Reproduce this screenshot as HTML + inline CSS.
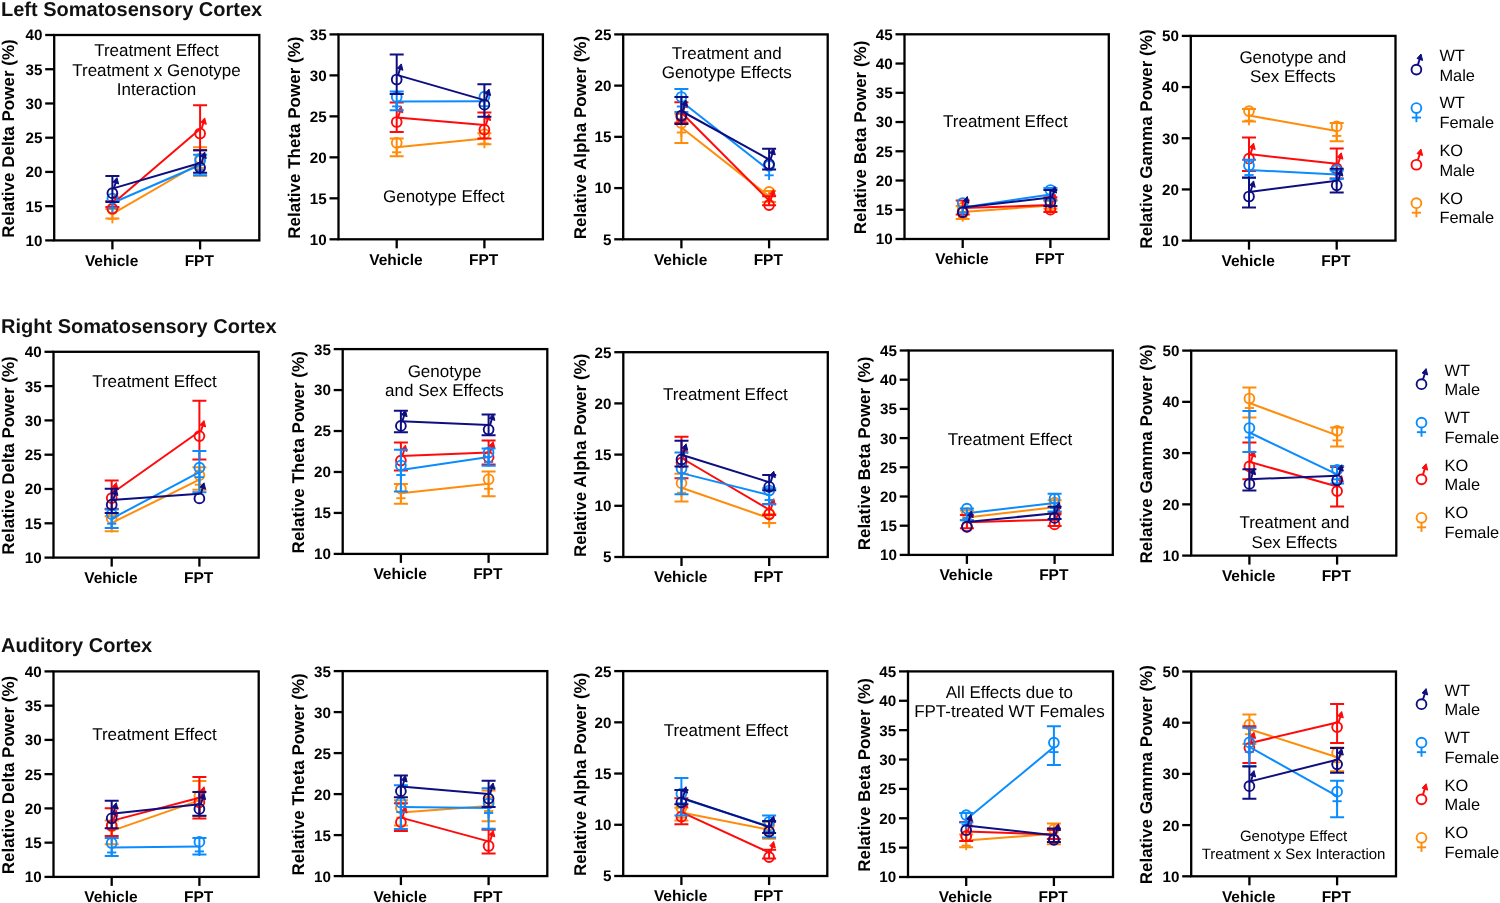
<!DOCTYPE html><html><head><meta charset="utf-8"><style>html,body{margin:0;padding:0;background:#fff;width:1500px;height:903px;overflow:hidden;position:relative}</style></head><body><svg width="1500" height="903" viewBox="0 0 1500 903" style="position:absolute;left:0;top:0;will-change:transform" text-rendering="geometricPrecision"><rect width="1500" height="903" fill="#fff"/><text x="1" y="15.6" font-family='"Liberation Sans", sans-serif' font-weight="700" font-size="20" fill="#111">Left Somatosensory Cortex</text><text x="1" y="333.3" font-family='"Liberation Sans", sans-serif' font-weight="700" font-size="20" fill="#111">Right Somatosensory Cortex</text><text x="1" y="651.5" font-family='"Liberation Sans", sans-serif' font-weight="700" font-size="20" fill="#111">Auditory Cortex</text><line x1="112.4" y1="213.80" x2="200.1" y2="163.00" stroke="#ff8c0a" stroke-width="2"/><path d="M105.4,209.00H119.4M112.4,209.00V218.50M105.4,218.50H119.4" fill="none" stroke="#ff8c0a" stroke-width="2"/><circle cx="112.40" cy="209.30" r="4.9" fill="none" stroke="#ff8c0a" stroke-width="1.9"/><line x1="112.40" y1="214.20" x2="112.40" y2="223.40" stroke="#ff8c0a" stroke-width="1.9"/><line x1="107.80" y1="218.80" x2="117.00" y2="218.80" stroke="#ff8c0a" stroke-width="1.9"/><path d="M193.1,147.30H207.1M200.1,147.30V175.80M193.1,175.80H207.1" fill="none" stroke="#ff8c0a" stroke-width="2"/><circle cx="200.10" cy="158.50" r="4.9" fill="none" stroke="#ff8c0a" stroke-width="1.9"/><line x1="200.10" y1="163.40" x2="200.10" y2="172.60" stroke="#ff8c0a" stroke-width="1.9"/><line x1="195.50" y1="168.00" x2="204.70" y2="168.00" stroke="#ff8c0a" stroke-width="1.9"/><line x1="112.4" y1="204.00" x2="200.1" y2="128.90" stroke="#ff0a0a" stroke-width="2"/><path d="M105.4,201.00H119.4M112.4,201.00V207.00M105.4,207.00H119.4" fill="none" stroke="#ff0a0a" stroke-width="2"/><circle cx="112.40" cy="208.60" r="4.9" fill="none" stroke="#ff0a0a" stroke-width="1.9"/><line x1="113.90" y1="203.90" x2="116.30" y2="196.00" stroke="#ff0a0a" stroke-width="1.9"/><polygon points="117.00,193.00 113.00,197.40 118.60,199.40" fill="#ff0a0a" stroke="#ff0a0a" stroke-width="1" stroke-linejoin="round"/><path d="M193.1,105.30H207.1M200.1,105.30V150.30M193.1,150.30H207.1" fill="none" stroke="#ff0a0a" stroke-width="2"/><circle cx="200.10" cy="133.50" r="4.9" fill="none" stroke="#ff0a0a" stroke-width="1.9"/><line x1="201.60" y1="128.80" x2="204.00" y2="120.90" stroke="#ff0a0a" stroke-width="1.9"/><polygon points="204.70,117.90 200.70,122.30 206.30,124.30" fill="#ff0a0a" stroke="#ff0a0a" stroke-width="1" stroke-linejoin="round"/><line x1="112.4" y1="203.00" x2="200.1" y2="165.00" stroke="#0a8cff" stroke-width="2"/><circle cx="112.40" cy="198.50" r="4.9" fill="none" stroke="#0a8cff" stroke-width="1.9"/><line x1="112.40" y1="203.40" x2="112.40" y2="212.60" stroke="#0a8cff" stroke-width="1.9"/><line x1="107.80" y1="208.00" x2="117.00" y2="208.00" stroke="#0a8cff" stroke-width="1.9"/><path d="M193.1,154.80H207.1M200.1,154.80V175.30M193.1,175.30H207.1" fill="none" stroke="#0a8cff" stroke-width="2"/><circle cx="200.10" cy="160.50" r="4.9" fill="none" stroke="#0a8cff" stroke-width="1.9"/><line x1="200.10" y1="165.40" x2="200.10" y2="174.60" stroke="#0a8cff" stroke-width="1.9"/><line x1="195.50" y1="170.00" x2="204.70" y2="170.00" stroke="#0a8cff" stroke-width="1.9"/><line x1="112.4" y1="188.60" x2="200.1" y2="163.00" stroke="#0e0e80" stroke-width="2"/><path d="M105.4,175.90H119.4M112.4,175.90V201.90M105.4,201.90H119.4" fill="none" stroke="#0e0e80" stroke-width="2"/><circle cx="112.40" cy="193.20" r="4.9" fill="none" stroke="#0e0e80" stroke-width="1.9"/><line x1="113.90" y1="188.50" x2="116.30" y2="180.60" stroke="#0e0e80" stroke-width="1.9"/><polygon points="117.00,177.60 113.00,182.00 118.60,184.00" fill="#0e0e80" stroke="#0e0e80" stroke-width="1" stroke-linejoin="round"/><path d="M193.1,150.30H207.1M200.1,150.30V172.80M193.1,172.80H207.1" fill="none" stroke="#0e0e80" stroke-width="2"/><circle cx="200.10" cy="167.60" r="4.9" fill="none" stroke="#0e0e80" stroke-width="1.9"/><line x1="201.60" y1="162.90" x2="204.00" y2="155.00" stroke="#0e0e80" stroke-width="1.9"/><polygon points="204.70,152.00 200.70,156.40 206.30,158.40" fill="#0e0e80" stroke="#0e0e80" stroke-width="1" stroke-linejoin="round"/><rect x="54.2" y="35" width="205.10000000000002" height="205.4" fill="none" stroke="#000" stroke-width="2.3"/><line x1="45.2" y1="240.40" x2="54.2" y2="240.40" stroke="#000" stroke-width="2.3"/><text x="42.40" y="245.80" text-anchor="end" font-family='"Liberation Sans", sans-serif' font-weight="700" font-size="15.2" fill="#000">10</text><line x1="45.2" y1="206.17" x2="54.2" y2="206.17" stroke="#000" stroke-width="2.3"/><text x="42.40" y="211.57" text-anchor="end" font-family='"Liberation Sans", sans-serif' font-weight="700" font-size="15.2" fill="#000">15</text><line x1="45.2" y1="171.93" x2="54.2" y2="171.93" stroke="#000" stroke-width="2.3"/><text x="42.40" y="177.33" text-anchor="end" font-family='"Liberation Sans", sans-serif' font-weight="700" font-size="15.2" fill="#000">20</text><line x1="45.2" y1="137.70" x2="54.2" y2="137.70" stroke="#000" stroke-width="2.3"/><text x="42.40" y="143.10" text-anchor="end" font-family='"Liberation Sans", sans-serif' font-weight="700" font-size="15.2" fill="#000">25</text><line x1="45.2" y1="103.47" x2="54.2" y2="103.47" stroke="#000" stroke-width="2.3"/><text x="42.40" y="108.87" text-anchor="end" font-family='"Liberation Sans", sans-serif' font-weight="700" font-size="15.2" fill="#000">30</text><line x1="45.2" y1="69.23" x2="54.2" y2="69.23" stroke="#000" stroke-width="2.3"/><text x="42.40" y="74.63" text-anchor="end" font-family='"Liberation Sans", sans-serif' font-weight="700" font-size="15.2" fill="#000">35</text><line x1="45.2" y1="35.00" x2="54.2" y2="35.00" stroke="#000" stroke-width="2.3"/><text x="42.40" y="40.40" text-anchor="end" font-family='"Liberation Sans", sans-serif' font-weight="700" font-size="15.2" fill="#000">40</text><line x1="112.4" y1="240.4" x2="112.4" y2="249.4" stroke="#000" stroke-width="2.3"/><text x="111.60000000000001" y="265.80" text-anchor="middle" font-family='"Liberation Sans", sans-serif' font-weight="700" font-size="15.5" fill="#000">Vehicle</text><line x1="200.1" y1="240.4" x2="200.1" y2="249.4" stroke="#000" stroke-width="2.3"/><text x="199.29999999999998" y="265.80" text-anchor="middle" font-family='"Liberation Sans", sans-serif' font-weight="700" font-size="15.5" fill="#000">FPT</text><text transform="translate(13.8,138.50) rotate(-90)" x="0" y="0" text-anchor="middle" font-family='"Liberation Sans", sans-serif' font-weight="700" font-size="17" fill="#000">Relative Delta Power (%)</text><text x="156.5" y="55.8" text-anchor="middle" font-family='"Liberation Sans", sans-serif' font-size="17" fill="#000">Treatment Effect</text><text x="156.5" y="75.7" text-anchor="middle" font-family='"Liberation Sans", sans-serif' font-size="17" fill="#000">Treatment x Genotype</text><text x="156.5" y="94.7" text-anchor="middle" font-family='"Liberation Sans", sans-serif' font-size="17" fill="#000">Interaction</text><line x1="396.7" y1="147.30" x2="484.4" y2="138.60" stroke="#ff8c0a" stroke-width="2"/><path d="M389.7,138.60H403.7M396.7,138.60V156.30M389.7,156.30H403.7" fill="none" stroke="#ff8c0a" stroke-width="2"/><circle cx="396.70" cy="142.80" r="4.9" fill="none" stroke="#ff8c0a" stroke-width="1.9"/><line x1="396.70" y1="147.70" x2="396.70" y2="156.90" stroke="#ff8c0a" stroke-width="1.9"/><line x1="392.10" y1="152.30" x2="401.30" y2="152.30" stroke="#ff8c0a" stroke-width="1.9"/><path d="M477.4,133.30H491.4M484.4,133.30V144.30M477.4,144.30H491.4" fill="none" stroke="#ff8c0a" stroke-width="2"/><circle cx="484.40" cy="134.10" r="4.9" fill="none" stroke="#ff8c0a" stroke-width="1.9"/><line x1="484.40" y1="139.00" x2="484.40" y2="148.20" stroke="#ff8c0a" stroke-width="1.9"/><line x1="479.80" y1="143.60" x2="489.00" y2="143.60" stroke="#ff8c0a" stroke-width="1.9"/><line x1="396.7" y1="117.40" x2="484.4" y2="125.10" stroke="#ff0a0a" stroke-width="2"/><path d="M389.7,102.40H403.7M396.7,102.40V132.00M389.7,132.00H403.7" fill="none" stroke="#ff0a0a" stroke-width="2"/><circle cx="396.70" cy="122.00" r="4.9" fill="none" stroke="#ff0a0a" stroke-width="1.9"/><line x1="398.20" y1="117.30" x2="400.60" y2="109.40" stroke="#ff0a0a" stroke-width="1.9"/><polygon points="401.30,106.40 397.30,110.80 402.90,112.80" fill="#ff0a0a" stroke="#ff0a0a" stroke-width="1" stroke-linejoin="round"/><path d="M477.4,112.50H491.4M484.4,112.50V138.60M477.4,138.60H491.4" fill="none" stroke="#ff0a0a" stroke-width="2"/><circle cx="484.40" cy="129.70" r="4.9" fill="none" stroke="#ff0a0a" stroke-width="1.9"/><line x1="485.90" y1="125.00" x2="488.30" y2="117.10" stroke="#ff0a0a" stroke-width="1.9"/><polygon points="489.00,114.10 485.00,118.50 490.60,120.50" fill="#ff0a0a" stroke="#ff0a0a" stroke-width="1" stroke-linejoin="round"/><line x1="396.7" y1="101.40" x2="484.4" y2="101.20" stroke="#0a8cff" stroke-width="2"/><path d="M389.7,91.50H403.7M396.7,91.50V110.30M389.7,110.30H403.7" fill="none" stroke="#0a8cff" stroke-width="2"/><circle cx="396.70" cy="96.90" r="4.9" fill="none" stroke="#0a8cff" stroke-width="1.9"/><line x1="396.70" y1="101.80" x2="396.70" y2="111.00" stroke="#0a8cff" stroke-width="1.9"/><line x1="392.10" y1="106.40" x2="401.30" y2="106.40" stroke="#0a8cff" stroke-width="1.9"/><circle cx="484.40" cy="96.70" r="4.9" fill="none" stroke="#0a8cff" stroke-width="1.9"/><line x1="484.40" y1="101.60" x2="484.40" y2="110.80" stroke="#0a8cff" stroke-width="1.9"/><line x1="479.80" y1="106.20" x2="489.00" y2="106.20" stroke="#0a8cff" stroke-width="1.9"/><line x1="396.7" y1="74.90" x2="484.4" y2="100.10" stroke="#0e0e80" stroke-width="2"/><path d="M389.7,54.60H403.7M396.7,54.60V94.10M389.7,94.10H403.7" fill="none" stroke="#0e0e80" stroke-width="2"/><circle cx="396.70" cy="79.50" r="4.9" fill="none" stroke="#0e0e80" stroke-width="1.9"/><line x1="398.20" y1="74.80" x2="400.60" y2="66.90" stroke="#0e0e80" stroke-width="1.9"/><polygon points="401.30,63.90 397.30,68.30 402.90,70.30" fill="#0e0e80" stroke="#0e0e80" stroke-width="1" stroke-linejoin="round"/><path d="M477.4,84.20H491.4M484.4,84.20V116.70M477.4,116.70H491.4" fill="none" stroke="#0e0e80" stroke-width="2"/><circle cx="484.40" cy="104.70" r="4.9" fill="none" stroke="#0e0e80" stroke-width="1.9"/><line x1="485.90" y1="100.00" x2="488.30" y2="92.10" stroke="#0e0e80" stroke-width="1.9"/><polygon points="489.00,89.10 485.00,93.50 490.60,95.50" fill="#0e0e80" stroke="#0e0e80" stroke-width="1" stroke-linejoin="round"/><rect x="338.5" y="34.4" width="204.39999999999998" height="204.9" fill="none" stroke="#000" stroke-width="2.3"/><line x1="329.5" y1="239.30" x2="338.5" y2="239.30" stroke="#000" stroke-width="2.3"/><text x="326.70" y="244.70" text-anchor="end" font-family='"Liberation Sans", sans-serif' font-weight="700" font-size="15.2" fill="#000">10</text><line x1="329.5" y1="198.32" x2="338.5" y2="198.32" stroke="#000" stroke-width="2.3"/><text x="326.70" y="203.72" text-anchor="end" font-family='"Liberation Sans", sans-serif' font-weight="700" font-size="15.2" fill="#000">15</text><line x1="329.5" y1="157.34" x2="338.5" y2="157.34" stroke="#000" stroke-width="2.3"/><text x="326.70" y="162.74" text-anchor="end" font-family='"Liberation Sans", sans-serif' font-weight="700" font-size="15.2" fill="#000">20</text><line x1="329.5" y1="116.36" x2="338.5" y2="116.36" stroke="#000" stroke-width="2.3"/><text x="326.70" y="121.76" text-anchor="end" font-family='"Liberation Sans", sans-serif' font-weight="700" font-size="15.2" fill="#000">25</text><line x1="329.5" y1="75.38" x2="338.5" y2="75.38" stroke="#000" stroke-width="2.3"/><text x="326.70" y="80.78" text-anchor="end" font-family='"Liberation Sans", sans-serif' font-weight="700" font-size="15.2" fill="#000">30</text><line x1="329.5" y1="34.40" x2="338.5" y2="34.40" stroke="#000" stroke-width="2.3"/><text x="326.70" y="39.80" text-anchor="end" font-family='"Liberation Sans", sans-serif' font-weight="700" font-size="15.2" fill="#000">35</text><line x1="396.7" y1="239.3" x2="396.7" y2="248.3" stroke="#000" stroke-width="2.3"/><text x="395.9" y="264.70" text-anchor="middle" font-family='"Liberation Sans", sans-serif' font-weight="700" font-size="15.5" fill="#000">Vehicle</text><line x1="484.4" y1="239.3" x2="484.4" y2="248.3" stroke="#000" stroke-width="2.3"/><text x="483.59999999999997" y="264.70" text-anchor="middle" font-family='"Liberation Sans", sans-serif' font-weight="700" font-size="15.5" fill="#000">FPT</text><text transform="translate(300.2,137.65) rotate(-90)" x="0" y="0" text-anchor="middle" font-family='"Liberation Sans", sans-serif' font-weight="700" font-size="17" fill="#000">Relative Theta Power (%)</text><text x="443.8" y="201.5" text-anchor="middle" font-family='"Liberation Sans", sans-serif' font-size="17" fill="#000">Genotype Effect</text><line x1="681.4" y1="127.50" x2="769.1" y2="196.40" stroke="#ff8c0a" stroke-width="2"/><path d="M674.4,113.90H688.4M681.4,113.90V143.10M674.4,143.10H688.4" fill="none" stroke="#ff8c0a" stroke-width="2"/><circle cx="681.40" cy="123.00" r="4.9" fill="none" stroke="#ff8c0a" stroke-width="1.9"/><line x1="681.40" y1="127.90" x2="681.40" y2="137.10" stroke="#ff8c0a" stroke-width="1.9"/><line x1="676.80" y1="132.50" x2="686.00" y2="132.50" stroke="#ff8c0a" stroke-width="1.9"/><path d="M762.1,191.00H776.1M769.1,191.00V202.00M762.1,202.00H776.1" fill="none" stroke="#ff8c0a" stroke-width="2"/><circle cx="769.10" cy="191.90" r="4.9" fill="none" stroke="#ff8c0a" stroke-width="1.9"/><line x1="769.10" y1="196.80" x2="769.10" y2="206.00" stroke="#ff8c0a" stroke-width="1.9"/><line x1="764.50" y1="201.40" x2="773.70" y2="201.40" stroke="#ff8c0a" stroke-width="1.9"/><line x1="681.4" y1="112.50" x2="769.1" y2="200.50" stroke="#ff0a0a" stroke-width="2"/><path d="M674.4,102.30H688.4M681.4,102.30V122.80M674.4,122.80H688.4" fill="none" stroke="#ff0a0a" stroke-width="2"/><circle cx="681.40" cy="117.10" r="4.9" fill="none" stroke="#ff0a0a" stroke-width="1.9"/><line x1="682.90" y1="112.40" x2="685.30" y2="104.50" stroke="#ff0a0a" stroke-width="1.9"/><polygon points="686.00,101.50 682.00,105.90 687.60,107.90" fill="#ff0a0a" stroke="#ff0a0a" stroke-width="1" stroke-linejoin="round"/><path d="M762.1,196.20H776.1M769.1,196.20V205.20M762.1,205.20H776.1" fill="none" stroke="#ff0a0a" stroke-width="2"/><circle cx="769.10" cy="205.10" r="4.9" fill="none" stroke="#ff0a0a" stroke-width="1.9"/><line x1="770.60" y1="200.40" x2="773.00" y2="192.50" stroke="#ff0a0a" stroke-width="1.9"/><polygon points="773.70,189.50 769.70,193.90 775.30,195.90" fill="#ff0a0a" stroke="#ff0a0a" stroke-width="1" stroke-linejoin="round"/><line x1="681.4" y1="101.50" x2="769.1" y2="170.30" stroke="#0a8cff" stroke-width="2"/><path d="M674.4,89.00H688.4M681.4,89.00V112.00M674.4,112.00H688.4" fill="none" stroke="#0a8cff" stroke-width="2"/><circle cx="681.40" cy="97.00" r="4.9" fill="none" stroke="#0a8cff" stroke-width="1.9"/><line x1="681.40" y1="101.90" x2="681.40" y2="111.10" stroke="#0a8cff" stroke-width="1.9"/><line x1="676.80" y1="106.50" x2="686.00" y2="106.50" stroke="#0a8cff" stroke-width="1.9"/><circle cx="769.10" cy="165.80" r="4.9" fill="none" stroke="#0a8cff" stroke-width="1.9"/><line x1="769.10" y1="170.70" x2="769.10" y2="179.90" stroke="#0a8cff" stroke-width="1.9"/><line x1="764.50" y1="175.30" x2="773.70" y2="175.30" stroke="#0a8cff" stroke-width="1.9"/><line x1="681.4" y1="111.00" x2="769.1" y2="159.50" stroke="#0e0e80" stroke-width="2"/><path d="M674.4,97.00H688.4M681.4,97.00V124.10M674.4,124.10H688.4" fill="none" stroke="#0e0e80" stroke-width="2"/><circle cx="681.40" cy="115.60" r="4.9" fill="none" stroke="#0e0e80" stroke-width="1.9"/><line x1="682.90" y1="110.90" x2="685.30" y2="103.00" stroke="#0e0e80" stroke-width="1.9"/><polygon points="686.00,100.00 682.00,104.40 687.60,106.40" fill="#0e0e80" stroke="#0e0e80" stroke-width="1" stroke-linejoin="round"/><path d="M762.1,148.80H776.1M769.1,148.80V169.60M762.1,169.60H776.1" fill="none" stroke="#0e0e80" stroke-width="2"/><circle cx="769.10" cy="164.10" r="4.9" fill="none" stroke="#0e0e80" stroke-width="1.9"/><line x1="770.60" y1="159.40" x2="773.00" y2="151.50" stroke="#0e0e80" stroke-width="1.9"/><polygon points="773.70,148.50 769.70,152.90 775.30,154.90" fill="#0e0e80" stroke="#0e0e80" stroke-width="1" stroke-linejoin="round"/><rect x="623.2" y="34.4" width="204.5" height="204.9" fill="none" stroke="#000" stroke-width="2.3"/><line x1="614.2" y1="239.30" x2="623.2" y2="239.30" stroke="#000" stroke-width="2.3"/><text x="611.40" y="244.70" text-anchor="end" font-family='"Liberation Sans", sans-serif' font-weight="700" font-size="15.2" fill="#000">5</text><line x1="614.2" y1="188.08" x2="623.2" y2="188.08" stroke="#000" stroke-width="2.3"/><text x="611.40" y="193.48" text-anchor="end" font-family='"Liberation Sans", sans-serif' font-weight="700" font-size="15.2" fill="#000">10</text><line x1="614.2" y1="136.85" x2="623.2" y2="136.85" stroke="#000" stroke-width="2.3"/><text x="611.40" y="142.25" text-anchor="end" font-family='"Liberation Sans", sans-serif' font-weight="700" font-size="15.2" fill="#000">15</text><line x1="614.2" y1="85.62" x2="623.2" y2="85.62" stroke="#000" stroke-width="2.3"/><text x="611.40" y="91.03" text-anchor="end" font-family='"Liberation Sans", sans-serif' font-weight="700" font-size="15.2" fill="#000">20</text><line x1="614.2" y1="34.40" x2="623.2" y2="34.40" stroke="#000" stroke-width="2.3"/><text x="611.40" y="39.80" text-anchor="end" font-family='"Liberation Sans", sans-serif' font-weight="700" font-size="15.2" fill="#000">25</text><line x1="681.4" y1="239.3" x2="681.4" y2="248.3" stroke="#000" stroke-width="2.3"/><text x="680.6" y="264.70" text-anchor="middle" font-family='"Liberation Sans", sans-serif' font-weight="700" font-size="15.5" fill="#000">Vehicle</text><line x1="769.1" y1="239.3" x2="769.1" y2="248.3" stroke="#000" stroke-width="2.3"/><text x="768.3000000000001" y="264.70" text-anchor="middle" font-family='"Liberation Sans", sans-serif' font-weight="700" font-size="15.5" fill="#000">FPT</text><text transform="translate(585.5,137.65) rotate(-90)" x="0" y="0" text-anchor="middle" font-family='"Liberation Sans", sans-serif' font-weight="700" font-size="17" fill="#000">Relative Alpha Power (%)</text><text x="726.8" y="59.2" text-anchor="middle" font-family='"Liberation Sans", sans-serif' font-size="17" fill="#000">Treatment and</text><text x="726.8" y="78.1" text-anchor="middle" font-family='"Liberation Sans", sans-serif' font-size="17" fill="#000">Genotype Effects</text><line x1="962.7" y1="212.10" x2="1050.4" y2="205.50" stroke="#ff8c0a" stroke-width="2"/><path d="M955.7,206.00H969.7M962.7,206.00V219.10M955.7,219.10H969.7" fill="none" stroke="#ff8c0a" stroke-width="2"/><circle cx="962.70" cy="207.60" r="4.9" fill="none" stroke="#ff8c0a" stroke-width="1.9"/><line x1="962.70" y1="212.50" x2="962.70" y2="221.70" stroke="#ff8c0a" stroke-width="1.9"/><line x1="958.10" y1="217.10" x2="967.30" y2="217.10" stroke="#ff8c0a" stroke-width="1.9"/><path d="M1043.4,200.90H1057.4M1050.4,200.90V208.40M1043.4,208.40H1057.4" fill="none" stroke="#ff8c0a" stroke-width="2"/><circle cx="1050.40" cy="201.00" r="4.9" fill="none" stroke="#ff8c0a" stroke-width="1.9"/><line x1="1050.40" y1="205.90" x2="1050.40" y2="215.10" stroke="#ff8c0a" stroke-width="1.9"/><line x1="1045.80" y1="210.50" x2="1055.00" y2="210.50" stroke="#ff8c0a" stroke-width="1.9"/><line x1="962.7" y1="207.90" x2="1050.4" y2="205.10" stroke="#ff0a0a" stroke-width="2"/><path d="M955.7,200.40H969.7M962.7,200.40V214.40M955.7,214.40H969.7" fill="none" stroke="#ff0a0a" stroke-width="2"/><circle cx="962.70" cy="212.50" r="4.9" fill="none" stroke="#ff0a0a" stroke-width="1.9"/><line x1="964.20" y1="207.80" x2="966.60" y2="199.90" stroke="#ff0a0a" stroke-width="1.9"/><polygon points="967.30,196.90 963.30,201.30 968.90,203.30" fill="#ff0a0a" stroke="#ff0a0a" stroke-width="1" stroke-linejoin="round"/><path d="M1043.4,197.20H1057.4M1050.4,197.20V212.10M1043.4,212.10H1057.4" fill="none" stroke="#ff0a0a" stroke-width="2"/><circle cx="1050.40" cy="209.70" r="4.9" fill="none" stroke="#ff0a0a" stroke-width="1.9"/><line x1="1051.90" y1="205.00" x2="1054.30" y2="197.10" stroke="#ff0a0a" stroke-width="1.9"/><polygon points="1055.00,194.10 1051.00,198.50 1056.60,200.50" fill="#ff0a0a" stroke="#ff0a0a" stroke-width="1" stroke-linejoin="round"/><line x1="962.7" y1="207.50" x2="1050.4" y2="194.50" stroke="#0a8cff" stroke-width="2"/><circle cx="962.70" cy="203.00" r="4.9" fill="none" stroke="#0a8cff" stroke-width="1.9"/><line x1="962.70" y1="207.90" x2="962.70" y2="217.10" stroke="#0a8cff" stroke-width="1.9"/><line x1="958.10" y1="212.50" x2="967.30" y2="212.50" stroke="#0a8cff" stroke-width="1.9"/><path d="M1043.4,188.00H1057.4M1050.4,188.00V200.00M1043.4,200.00H1057.4" fill="none" stroke="#0a8cff" stroke-width="2"/><circle cx="1050.40" cy="190.00" r="4.9" fill="none" stroke="#0a8cff" stroke-width="1.9"/><line x1="1050.40" y1="194.90" x2="1050.40" y2="204.10" stroke="#0a8cff" stroke-width="1.9"/><line x1="1045.80" y1="199.50" x2="1055.00" y2="199.50" stroke="#0a8cff" stroke-width="1.9"/><line x1="962.7" y1="207.50" x2="1050.4" y2="197.60" stroke="#0e0e80" stroke-width="2"/><circle cx="962.70" cy="212.10" r="4.9" fill="none" stroke="#0e0e80" stroke-width="1.9"/><line x1="964.20" y1="207.40" x2="966.60" y2="199.50" stroke="#0e0e80" stroke-width="1.9"/><polygon points="967.30,196.50 963.30,200.90 968.90,202.90" fill="#0e0e80" stroke="#0e0e80" stroke-width="1" stroke-linejoin="round"/><path d="M1043.4,190.10H1057.4M1050.4,190.10V206.00M1043.4,206.00H1057.4" fill="none" stroke="#0e0e80" stroke-width="2"/><circle cx="1050.40" cy="202.20" r="4.9" fill="none" stroke="#0e0e80" stroke-width="1.9"/><line x1="1051.90" y1="197.50" x2="1054.30" y2="189.60" stroke="#0e0e80" stroke-width="1.9"/><polygon points="1055.00,186.60 1051.00,191.00 1056.60,193.00" fill="#0e0e80" stroke="#0e0e80" stroke-width="1" stroke-linejoin="round"/><rect x="904.5" y="34.3" width="204.29999999999995" height="204.7" fill="none" stroke="#000" stroke-width="2.3"/><line x1="895.5" y1="239.00" x2="904.5" y2="239.00" stroke="#000" stroke-width="2.3"/><text x="892.70" y="244.40" text-anchor="end" font-family='"Liberation Sans", sans-serif' font-weight="700" font-size="15.2" fill="#000">10</text><line x1="895.5" y1="209.76" x2="904.5" y2="209.76" stroke="#000" stroke-width="2.3"/><text x="892.70" y="215.16" text-anchor="end" font-family='"Liberation Sans", sans-serif' font-weight="700" font-size="15.2" fill="#000">15</text><line x1="895.5" y1="180.51" x2="904.5" y2="180.51" stroke="#000" stroke-width="2.3"/><text x="892.70" y="185.91" text-anchor="end" font-family='"Liberation Sans", sans-serif' font-weight="700" font-size="15.2" fill="#000">20</text><line x1="895.5" y1="151.27" x2="904.5" y2="151.27" stroke="#000" stroke-width="2.3"/><text x="892.70" y="156.67" text-anchor="end" font-family='"Liberation Sans", sans-serif' font-weight="700" font-size="15.2" fill="#000">25</text><line x1="895.5" y1="122.03" x2="904.5" y2="122.03" stroke="#000" stroke-width="2.3"/><text x="892.70" y="127.43" text-anchor="end" font-family='"Liberation Sans", sans-serif' font-weight="700" font-size="15.2" fill="#000">30</text><line x1="895.5" y1="92.79" x2="904.5" y2="92.79" stroke="#000" stroke-width="2.3"/><text x="892.70" y="98.19" text-anchor="end" font-family='"Liberation Sans", sans-serif' font-weight="700" font-size="15.2" fill="#000">35</text><line x1="895.5" y1="63.54" x2="904.5" y2="63.54" stroke="#000" stroke-width="2.3"/><text x="892.70" y="68.94" text-anchor="end" font-family='"Liberation Sans", sans-serif' font-weight="700" font-size="15.2" fill="#000">40</text><line x1="895.5" y1="34.30" x2="904.5" y2="34.30" stroke="#000" stroke-width="2.3"/><text x="892.70" y="39.70" text-anchor="end" font-family='"Liberation Sans", sans-serif' font-weight="700" font-size="15.2" fill="#000">45</text><line x1="962.7" y1="239" x2="962.7" y2="248" stroke="#000" stroke-width="2.3"/><text x="961.9000000000001" y="264.40" text-anchor="middle" font-family='"Liberation Sans", sans-serif' font-weight="700" font-size="15.5" fill="#000">Vehicle</text><line x1="1050.4" y1="239" x2="1050.4" y2="248" stroke="#000" stroke-width="2.3"/><text x="1049.6000000000001" y="264.40" text-anchor="middle" font-family='"Liberation Sans", sans-serif' font-weight="700" font-size="15.5" fill="#000">FPT</text><text transform="translate(866,137.45) rotate(-90)" x="0" y="0" text-anchor="middle" font-family='"Liberation Sans", sans-serif' font-weight="700" font-size="17" fill="#000">Relative Beta Power (%)</text><text x="1005.4" y="127" text-anchor="middle" font-family='"Liberation Sans", sans-serif' font-size="17" fill="#000">Treatment Effect</text><line x1="1249.0" y1="115.60" x2="1336.7" y2="130.90" stroke="#ff8c0a" stroke-width="2"/><path d="M1242.0,108.90H1256.0M1249.0,108.90V121.60M1242.0,121.60H1256.0" fill="none" stroke="#ff8c0a" stroke-width="2"/><circle cx="1249.00" cy="111.10" r="4.9" fill="none" stroke="#ff8c0a" stroke-width="1.9"/><line x1="1249.00" y1="116.00" x2="1249.00" y2="125.20" stroke="#ff8c0a" stroke-width="1.9"/><line x1="1244.40" y1="120.60" x2="1253.60" y2="120.60" stroke="#ff8c0a" stroke-width="1.9"/><path d="M1329.7,122.90H1343.7M1336.7,122.90V141.20M1329.7,141.20H1343.7" fill="none" stroke="#ff8c0a" stroke-width="2"/><circle cx="1336.70" cy="126.40" r="4.9" fill="none" stroke="#ff8c0a" stroke-width="1.9"/><line x1="1336.70" y1="131.30" x2="1336.70" y2="140.50" stroke="#ff8c0a" stroke-width="1.9"/><line x1="1332.10" y1="135.90" x2="1341.30" y2="135.90" stroke="#ff8c0a" stroke-width="1.9"/><line x1="1249.0" y1="154.10" x2="1336.7" y2="163.80" stroke="#ff0a0a" stroke-width="2"/><path d="M1242.0,137.50H1256.0M1249.0,137.50V171.00M1242.0,171.00H1256.0" fill="none" stroke="#ff0a0a" stroke-width="2"/><circle cx="1249.00" cy="158.70" r="4.9" fill="none" stroke="#ff0a0a" stroke-width="1.9"/><line x1="1250.50" y1="154.00" x2="1252.90" y2="146.10" stroke="#ff0a0a" stroke-width="1.9"/><polygon points="1253.60,143.10 1249.60,147.50 1255.20,149.50" fill="#ff0a0a" stroke="#ff0a0a" stroke-width="1" stroke-linejoin="round"/><path d="M1329.7,148.40H1343.7M1336.7,148.40V178.40M1329.7,178.40H1343.7" fill="none" stroke="#ff0a0a" stroke-width="2"/><circle cx="1336.70" cy="168.40" r="4.9" fill="none" stroke="#ff0a0a" stroke-width="1.9"/><line x1="1338.20" y1="163.70" x2="1340.60" y2="155.80" stroke="#ff0a0a" stroke-width="1.9"/><polygon points="1341.30,152.80 1337.30,157.20 1342.90,159.20" fill="#ff0a0a" stroke="#ff0a0a" stroke-width="1" stroke-linejoin="round"/><line x1="1249.0" y1="170.00" x2="1336.7" y2="174.60" stroke="#0a8cff" stroke-width="2"/><path d="M1242.0,159.80H1256.0M1249.0,159.80V178.00M1242.0,178.00H1256.0" fill="none" stroke="#0a8cff" stroke-width="2"/><circle cx="1249.00" cy="165.50" r="4.9" fill="none" stroke="#0a8cff" stroke-width="1.9"/><line x1="1249.00" y1="170.40" x2="1249.00" y2="179.60" stroke="#0a8cff" stroke-width="1.9"/><line x1="1244.40" y1="175.00" x2="1253.60" y2="175.00" stroke="#0a8cff" stroke-width="1.9"/><path d="M1329.7,170.50H1343.7M1336.7,170.50V178.70M1329.7,178.70H1343.7" fill="none" stroke="#0a8cff" stroke-width="2"/><circle cx="1336.70" cy="170.10" r="4.9" fill="none" stroke="#0a8cff" stroke-width="1.9"/><line x1="1336.70" y1="175.00" x2="1336.70" y2="184.20" stroke="#0a8cff" stroke-width="1.9"/><line x1="1332.10" y1="179.60" x2="1341.30" y2="179.60" stroke="#0a8cff" stroke-width="1.9"/><line x1="1249.0" y1="191.90" x2="1336.7" y2="180.70" stroke="#0e0e80" stroke-width="2"/><path d="M1242.0,177.60H1256.0M1249.0,177.60V207.60M1242.0,207.60H1256.0" fill="none" stroke="#0e0e80" stroke-width="2"/><circle cx="1249.00" cy="196.50" r="4.9" fill="none" stroke="#0e0e80" stroke-width="1.9"/><line x1="1250.50" y1="191.80" x2="1252.90" y2="183.90" stroke="#0e0e80" stroke-width="1.9"/><polygon points="1253.60,180.90 1249.60,185.30 1255.20,187.30" fill="#0e0e80" stroke="#0e0e80" stroke-width="1" stroke-linejoin="round"/><path d="M1329.7,168.70H1343.7M1336.7,168.70V192.60M1329.7,192.60H1343.7" fill="none" stroke="#0e0e80" stroke-width="2"/><circle cx="1336.70" cy="185.30" r="4.9" fill="none" stroke="#0e0e80" stroke-width="1.9"/><line x1="1338.20" y1="180.60" x2="1340.60" y2="172.70" stroke="#0e0e80" stroke-width="1.9"/><polygon points="1341.30,169.70 1337.30,174.10 1342.90,176.10" fill="#0e0e80" stroke="#0e0e80" stroke-width="1" stroke-linejoin="round"/><rect x="1190.8" y="35.9" width="204.70000000000005" height="204.7" fill="none" stroke="#000" stroke-width="2.3"/><line x1="1181.8" y1="240.60" x2="1190.8" y2="240.60" stroke="#000" stroke-width="2.3"/><text x="1179.00" y="246.00" text-anchor="end" font-family='"Liberation Sans", sans-serif' font-weight="700" font-size="15.2" fill="#000">10</text><line x1="1181.8" y1="189.43" x2="1190.8" y2="189.43" stroke="#000" stroke-width="2.3"/><text x="1179.00" y="194.83" text-anchor="end" font-family='"Liberation Sans", sans-serif' font-weight="700" font-size="15.2" fill="#000">20</text><line x1="1181.8" y1="138.25" x2="1190.8" y2="138.25" stroke="#000" stroke-width="2.3"/><text x="1179.00" y="143.65" text-anchor="end" font-family='"Liberation Sans", sans-serif' font-weight="700" font-size="15.2" fill="#000">30</text><line x1="1181.8" y1="87.07" x2="1190.8" y2="87.07" stroke="#000" stroke-width="2.3"/><text x="1179.00" y="92.47" text-anchor="end" font-family='"Liberation Sans", sans-serif' font-weight="700" font-size="15.2" fill="#000">40</text><line x1="1181.8" y1="35.90" x2="1190.8" y2="35.90" stroke="#000" stroke-width="2.3"/><text x="1179.00" y="41.30" text-anchor="end" font-family='"Liberation Sans", sans-serif' font-weight="700" font-size="15.2" fill="#000">50</text><line x1="1249.0" y1="240.6" x2="1249.0" y2="249.6" stroke="#000" stroke-width="2.3"/><text x="1248.2" y="266.00" text-anchor="middle" font-family='"Liberation Sans", sans-serif' font-weight="700" font-size="15.5" fill="#000">Vehicle</text><line x1="1336.7" y1="240.6" x2="1336.7" y2="249.6" stroke="#000" stroke-width="2.3"/><text x="1335.9" y="266.00" text-anchor="middle" font-family='"Liberation Sans", sans-serif' font-weight="700" font-size="15.5" fill="#000">FPT</text><text transform="translate(1152,139.05) rotate(-90)" x="0" y="0" text-anchor="middle" font-family='"Liberation Sans", sans-serif' font-weight="700" font-size="17" fill="#000">Relative Gamma Power (%)</text><text x="1292.8" y="62.5" text-anchor="middle" font-family='"Liberation Sans", sans-serif' font-size="17" fill="#000">Genotype and</text><text x="1292.8" y="81.5" text-anchor="middle" font-family='"Liberation Sans", sans-serif' font-size="17" fill="#000">Sex Effects</text><line x1="111.7" y1="522.90" x2="199.4" y2="479.70" stroke="#ff8c0a" stroke-width="2"/><path d="M104.7,516.20H118.7M111.7,516.20V531.20M104.7,531.20H118.7" fill="none" stroke="#ff8c0a" stroke-width="2"/><circle cx="111.70" cy="518.40" r="4.9" fill="none" stroke="#ff8c0a" stroke-width="1.9"/><line x1="111.70" y1="523.30" x2="111.70" y2="532.50" stroke="#ff8c0a" stroke-width="1.9"/><line x1="107.10" y1="527.90" x2="116.30" y2="527.90" stroke="#ff8c0a" stroke-width="1.9"/><path d="M192.4,467.20H206.4M199.4,467.20V489.70M192.4,489.70H206.4" fill="none" stroke="#ff8c0a" stroke-width="2"/><circle cx="199.40" cy="475.20" r="4.9" fill="none" stroke="#ff8c0a" stroke-width="1.9"/><line x1="199.40" y1="480.10" x2="199.40" y2="489.30" stroke="#ff8c0a" stroke-width="1.9"/><line x1="194.80" y1="484.70" x2="204.00" y2="484.70" stroke="#ff8c0a" stroke-width="1.9"/><line x1="111.7" y1="493.50" x2="199.4" y2="431.50" stroke="#ff0a0a" stroke-width="2"/><path d="M104.7,480.50H118.7M111.7,480.50V508.80M104.7,508.80H118.7" fill="none" stroke="#ff0a0a" stroke-width="2"/><circle cx="111.70" cy="498.10" r="4.9" fill="none" stroke="#ff0a0a" stroke-width="1.9"/><line x1="113.20" y1="493.40" x2="115.60" y2="485.50" stroke="#ff0a0a" stroke-width="1.9"/><polygon points="116.30,482.50 112.30,486.90 117.90,488.90" fill="#ff0a0a" stroke="#ff0a0a" stroke-width="1" stroke-linejoin="round"/><path d="M192.4,400.80H206.4M199.4,400.80V459.40M192.4,459.40H206.4" fill="none" stroke="#ff0a0a" stroke-width="2"/><circle cx="199.40" cy="436.10" r="4.9" fill="none" stroke="#ff0a0a" stroke-width="1.9"/><line x1="200.90" y1="431.40" x2="203.30" y2="423.50" stroke="#ff0a0a" stroke-width="1.9"/><polygon points="204.00,420.50 200.00,424.90 205.60,426.90" fill="#ff0a0a" stroke="#ff0a0a" stroke-width="1" stroke-linejoin="round"/><line x1="111.7" y1="518.70" x2="199.4" y2="472.20" stroke="#0a8cff" stroke-width="2"/><path d="M104.7,509.50H118.7M111.7,509.50V527.90M104.7,527.90H118.7" fill="none" stroke="#0a8cff" stroke-width="2"/><circle cx="111.70" cy="514.20" r="4.9" fill="none" stroke="#0a8cff" stroke-width="1.9"/><line x1="111.70" y1="519.10" x2="111.70" y2="528.30" stroke="#0a8cff" stroke-width="1.9"/><line x1="107.10" y1="523.70" x2="116.30" y2="523.70" stroke="#0a8cff" stroke-width="1.9"/><path d="M192.4,451.10H206.4M199.4,451.10V492.20M192.4,492.20H206.4" fill="none" stroke="#0a8cff" stroke-width="2"/><circle cx="199.40" cy="467.70" r="4.9" fill="none" stroke="#0a8cff" stroke-width="1.9"/><line x1="199.40" y1="472.60" x2="199.40" y2="481.80" stroke="#0a8cff" stroke-width="1.9"/><line x1="194.80" y1="477.20" x2="204.00" y2="477.20" stroke="#0a8cff" stroke-width="1.9"/><line x1="111.7" y1="500.10" x2="199.4" y2="493.80" stroke="#0e0e80" stroke-width="2"/><path d="M104.7,488.80H118.7M111.7,488.80V512.90M104.7,512.90H118.7" fill="none" stroke="#0e0e80" stroke-width="2"/><circle cx="111.70" cy="504.70" r="4.9" fill="none" stroke="#0e0e80" stroke-width="1.9"/><line x1="113.20" y1="500.00" x2="115.60" y2="492.10" stroke="#0e0e80" stroke-width="1.9"/><polygon points="116.30,489.10 112.30,493.50 117.90,495.50" fill="#0e0e80" stroke="#0e0e80" stroke-width="1" stroke-linejoin="round"/><circle cx="199.40" cy="498.40" r="4.9" fill="none" stroke="#0e0e80" stroke-width="1.9"/><line x1="200.90" y1="493.70" x2="203.30" y2="485.80" stroke="#0e0e80" stroke-width="1.9"/><polygon points="204.00,482.80 200.00,487.20 205.60,489.20" fill="#0e0e80" stroke="#0e0e80" stroke-width="1" stroke-linejoin="round"/><rect x="53.5" y="351.8" width="205.2" height="205.8" fill="none" stroke="#000" stroke-width="2.3"/><line x1="44.5" y1="557.60" x2="53.5" y2="557.60" stroke="#000" stroke-width="2.3"/><text x="41.70" y="563.00" text-anchor="end" font-family='"Liberation Sans", sans-serif' font-weight="700" font-size="15.2" fill="#000">10</text><line x1="44.5" y1="523.30" x2="53.5" y2="523.30" stroke="#000" stroke-width="2.3"/><text x="41.70" y="528.70" text-anchor="end" font-family='"Liberation Sans", sans-serif' font-weight="700" font-size="15.2" fill="#000">15</text><line x1="44.5" y1="489.00" x2="53.5" y2="489.00" stroke="#000" stroke-width="2.3"/><text x="41.70" y="494.40" text-anchor="end" font-family='"Liberation Sans", sans-serif' font-weight="700" font-size="15.2" fill="#000">20</text><line x1="44.5" y1="454.70" x2="53.5" y2="454.70" stroke="#000" stroke-width="2.3"/><text x="41.70" y="460.10" text-anchor="end" font-family='"Liberation Sans", sans-serif' font-weight="700" font-size="15.2" fill="#000">25</text><line x1="44.5" y1="420.40" x2="53.5" y2="420.40" stroke="#000" stroke-width="2.3"/><text x="41.70" y="425.80" text-anchor="end" font-family='"Liberation Sans", sans-serif' font-weight="700" font-size="15.2" fill="#000">30</text><line x1="44.5" y1="386.10" x2="53.5" y2="386.10" stroke="#000" stroke-width="2.3"/><text x="41.70" y="391.50" text-anchor="end" font-family='"Liberation Sans", sans-serif' font-weight="700" font-size="15.2" fill="#000">35</text><line x1="44.5" y1="351.80" x2="53.5" y2="351.80" stroke="#000" stroke-width="2.3"/><text x="41.70" y="357.20" text-anchor="end" font-family='"Liberation Sans", sans-serif' font-weight="700" font-size="15.2" fill="#000">40</text><line x1="111.7" y1="557.6" x2="111.7" y2="566.6" stroke="#000" stroke-width="2.3"/><text x="110.9" y="583.00" text-anchor="middle" font-family='"Liberation Sans", sans-serif' font-weight="700" font-size="15.5" fill="#000">Vehicle</text><line x1="199.4" y1="557.6" x2="199.4" y2="566.6" stroke="#000" stroke-width="2.3"/><text x="198.6" y="583.00" text-anchor="middle" font-family='"Liberation Sans", sans-serif' font-weight="700" font-size="15.5" fill="#000">FPT</text><text transform="translate(13.8,455.50) rotate(-90)" x="0" y="0" text-anchor="middle" font-family='"Liberation Sans", sans-serif' font-weight="700" font-size="17" fill="#000">Relative Delta Power (%)</text><text x="154.5" y="387" text-anchor="middle" font-family='"Liberation Sans", sans-serif' font-size="17" fill="#000">Treatment Effect</text><line x1="400.9" y1="493.20" x2="488.6" y2="483.80" stroke="#ff8c0a" stroke-width="2"/><path d="M393.9,484.00H407.9M400.9,484.00V503.80M393.9,503.80H407.9" fill="none" stroke="#ff8c0a" stroke-width="2"/><circle cx="400.90" cy="488.70" r="4.9" fill="none" stroke="#ff8c0a" stroke-width="1.9"/><line x1="400.90" y1="493.60" x2="400.90" y2="502.80" stroke="#ff8c0a" stroke-width="1.9"/><line x1="396.30" y1="498.20" x2="405.50" y2="498.20" stroke="#ff8c0a" stroke-width="1.9"/><path d="M481.6,471.60H495.6M488.6,471.60V496.20M481.6,496.20H495.6" fill="none" stroke="#ff8c0a" stroke-width="2"/><circle cx="488.60" cy="479.30" r="4.9" fill="none" stroke="#ff8c0a" stroke-width="1.9"/><line x1="488.60" y1="484.20" x2="488.60" y2="493.40" stroke="#ff8c0a" stroke-width="1.9"/><line x1="484.00" y1="488.80" x2="493.20" y2="488.80" stroke="#ff8c0a" stroke-width="1.9"/><line x1="400.9" y1="456.00" x2="488.6" y2="452.60" stroke="#ff0a0a" stroke-width="2"/><path d="M393.9,442.60H407.9M400.9,442.60V470.40M393.9,470.40H407.9" fill="none" stroke="#ff0a0a" stroke-width="2"/><circle cx="400.90" cy="460.60" r="4.9" fill="none" stroke="#ff0a0a" stroke-width="1.9"/><line x1="402.40" y1="455.90" x2="404.80" y2="448.00" stroke="#ff0a0a" stroke-width="1.9"/><polygon points="405.50,445.00 401.50,449.40 407.10,451.40" fill="#ff0a0a" stroke="#ff0a0a" stroke-width="1" stroke-linejoin="round"/><path d="M481.6,440.40H495.6M488.6,440.40V464.60M481.6,464.60H495.6" fill="none" stroke="#ff0a0a" stroke-width="2"/><circle cx="488.60" cy="457.20" r="4.9" fill="none" stroke="#ff0a0a" stroke-width="1.9"/><line x1="490.10" y1="452.50" x2="492.50" y2="444.60" stroke="#ff0a0a" stroke-width="1.9"/><polygon points="493.20,441.60 489.20,446.00 494.80,448.00" fill="#ff0a0a" stroke="#ff0a0a" stroke-width="1" stroke-linejoin="round"/><line x1="400.9" y1="470.00" x2="488.6" y2="457.00" stroke="#0a8cff" stroke-width="2"/><path d="M393.9,449.70H407.9M400.9,449.70V491.40M393.9,491.40H407.9" fill="none" stroke="#0a8cff" stroke-width="2"/><circle cx="400.90" cy="465.50" r="4.9" fill="none" stroke="#0a8cff" stroke-width="1.9"/><line x1="400.90" y1="470.40" x2="400.90" y2="479.60" stroke="#0a8cff" stroke-width="1.9"/><line x1="396.30" y1="475.00" x2="405.50" y2="475.00" stroke="#0a8cff" stroke-width="1.9"/><path d="M481.6,448.50H495.6M488.6,448.50V465.80M481.6,465.80H495.6" fill="none" stroke="#0a8cff" stroke-width="2"/><circle cx="488.60" cy="452.50" r="4.9" fill="none" stroke="#0a8cff" stroke-width="1.9"/><line x1="488.60" y1="457.40" x2="488.60" y2="466.60" stroke="#0a8cff" stroke-width="1.9"/><line x1="484.00" y1="462.00" x2="493.20" y2="462.00" stroke="#0a8cff" stroke-width="1.9"/><line x1="400.9" y1="421.30" x2="488.6" y2="425.00" stroke="#0e0e80" stroke-width="2"/><path d="M393.9,410.70H407.9M400.9,410.70V432.30M393.9,432.30H407.9" fill="none" stroke="#0e0e80" stroke-width="2"/><circle cx="400.90" cy="425.90" r="4.9" fill="none" stroke="#0e0e80" stroke-width="1.9"/><line x1="402.40" y1="421.20" x2="404.80" y2="413.30" stroke="#0e0e80" stroke-width="1.9"/><polygon points="405.50,410.30 401.50,414.70 407.10,416.70" fill="#0e0e80" stroke="#0e0e80" stroke-width="1" stroke-linejoin="round"/><path d="M481.6,414.40H495.6M488.6,414.40V435.30M481.6,435.30H495.6" fill="none" stroke="#0e0e80" stroke-width="2"/><circle cx="488.60" cy="429.60" r="4.9" fill="none" stroke="#0e0e80" stroke-width="1.9"/><line x1="490.10" y1="424.90" x2="492.50" y2="417.00" stroke="#0e0e80" stroke-width="1.9"/><polygon points="493.20,414.00 489.20,418.40 494.80,420.40" fill="#0e0e80" stroke="#0e0e80" stroke-width="1" stroke-linejoin="round"/><rect x="342.7" y="349.1" width="204.59999999999997" height="204.79999999999995" fill="none" stroke="#000" stroke-width="2.3"/><line x1="333.7" y1="553.90" x2="342.7" y2="553.90" stroke="#000" stroke-width="2.3"/><text x="330.90" y="559.30" text-anchor="end" font-family='"Liberation Sans", sans-serif' font-weight="700" font-size="15.2" fill="#000">10</text><line x1="333.7" y1="512.94" x2="342.7" y2="512.94" stroke="#000" stroke-width="2.3"/><text x="330.90" y="518.34" text-anchor="end" font-family='"Liberation Sans", sans-serif' font-weight="700" font-size="15.2" fill="#000">15</text><line x1="333.7" y1="471.98" x2="342.7" y2="471.98" stroke="#000" stroke-width="2.3"/><text x="330.90" y="477.38" text-anchor="end" font-family='"Liberation Sans", sans-serif' font-weight="700" font-size="15.2" fill="#000">20</text><line x1="333.7" y1="431.02" x2="342.7" y2="431.02" stroke="#000" stroke-width="2.3"/><text x="330.90" y="436.42" text-anchor="end" font-family='"Liberation Sans", sans-serif' font-weight="700" font-size="15.2" fill="#000">25</text><line x1="333.7" y1="390.06" x2="342.7" y2="390.06" stroke="#000" stroke-width="2.3"/><text x="330.90" y="395.46" text-anchor="end" font-family='"Liberation Sans", sans-serif' font-weight="700" font-size="15.2" fill="#000">30</text><line x1="333.7" y1="349.10" x2="342.7" y2="349.10" stroke="#000" stroke-width="2.3"/><text x="330.90" y="354.50" text-anchor="end" font-family='"Liberation Sans", sans-serif' font-weight="700" font-size="15.2" fill="#000">35</text><line x1="400.9" y1="553.9" x2="400.9" y2="562.9" stroke="#000" stroke-width="2.3"/><text x="400.09999999999997" y="579.30" text-anchor="middle" font-family='"Liberation Sans", sans-serif' font-weight="700" font-size="15.5" fill="#000">Vehicle</text><line x1="488.6" y1="553.9" x2="488.6" y2="562.9" stroke="#000" stroke-width="2.3"/><text x="487.8" y="579.30" text-anchor="middle" font-family='"Liberation Sans", sans-serif' font-weight="700" font-size="15.5" fill="#000">FPT</text><text transform="translate(304,452.30) rotate(-90)" x="0" y="0" text-anchor="middle" font-family='"Liberation Sans", sans-serif' font-weight="700" font-size="17" fill="#000">Relative Theta Power (%)</text><text x="444.5" y="377.1" text-anchor="middle" font-family='"Liberation Sans", sans-serif' font-size="17" fill="#000">Genotype</text><text x="444.5" y="396.4" text-anchor="middle" font-family='"Liberation Sans", sans-serif' font-size="17" fill="#000">and Sex Effects</text><line x1="681.5" y1="487.70" x2="769.2" y2="518.20" stroke="#ff8c0a" stroke-width="2"/><path d="M674.5,473.70H688.5M681.5,473.70V501.50M674.5,501.50H688.5" fill="none" stroke="#ff8c0a" stroke-width="2"/><circle cx="681.50" cy="483.20" r="4.9" fill="none" stroke="#ff8c0a" stroke-width="1.9"/><line x1="681.50" y1="488.10" x2="681.50" y2="497.30" stroke="#ff8c0a" stroke-width="1.9"/><line x1="676.90" y1="492.70" x2="686.10" y2="492.70" stroke="#ff8c0a" stroke-width="1.9"/><path d="M762.2,514.00H776.2M769.2,514.00V523.00M762.2,523.00H776.2" fill="none" stroke="#ff8c0a" stroke-width="2"/><circle cx="769.20" cy="513.70" r="4.9" fill="none" stroke="#ff8c0a" stroke-width="1.9"/><line x1="769.20" y1="518.60" x2="769.20" y2="527.80" stroke="#ff8c0a" stroke-width="1.9"/><line x1="764.60" y1="523.20" x2="773.80" y2="523.20" stroke="#ff8c0a" stroke-width="1.9"/><line x1="681.5" y1="458.00" x2="769.2" y2="509.70" stroke="#ff0a0a" stroke-width="2"/><path d="M674.5,436.80H688.5M681.5,436.80V478.20M674.5,478.20H688.5" fill="none" stroke="#ff0a0a" stroke-width="2"/><circle cx="681.50" cy="462.60" r="4.9" fill="none" stroke="#ff0a0a" stroke-width="1.9"/><line x1="683.00" y1="457.90" x2="685.40" y2="450.00" stroke="#ff0a0a" stroke-width="1.9"/><polygon points="686.10,447.00 682.10,451.40 687.70,453.40" fill="#ff0a0a" stroke="#ff0a0a" stroke-width="1" stroke-linejoin="round"/><path d="M762.2,504.00H776.2M769.2,504.00V515.00M762.2,515.00H776.2" fill="none" stroke="#ff0a0a" stroke-width="2"/><circle cx="769.20" cy="514.30" r="4.9" fill="none" stroke="#ff0a0a" stroke-width="1.9"/><line x1="770.70" y1="509.60" x2="773.10" y2="501.70" stroke="#ff0a0a" stroke-width="1.9"/><polygon points="773.80,498.70 769.80,503.10 775.40,505.10" fill="#ff0a0a" stroke="#ff0a0a" stroke-width="1" stroke-linejoin="round"/><line x1="681.5" y1="473.10" x2="769.2" y2="495.00" stroke="#0a8cff" stroke-width="2"/><path d="M674.5,452.40H688.5M681.5,452.40V494.20M674.5,494.20H688.5" fill="none" stroke="#0a8cff" stroke-width="2"/><circle cx="681.50" cy="468.60" r="4.9" fill="none" stroke="#0a8cff" stroke-width="1.9"/><line x1="681.50" y1="473.50" x2="681.50" y2="482.70" stroke="#0a8cff" stroke-width="1.9"/><line x1="676.90" y1="478.10" x2="686.10" y2="478.10" stroke="#0a8cff" stroke-width="1.9"/><path d="M762.2,488.30H776.2M769.2,488.30V504.20M762.2,504.20H776.2" fill="none" stroke="#0a8cff" stroke-width="2"/><circle cx="769.20" cy="490.50" r="4.9" fill="none" stroke="#0a8cff" stroke-width="1.9"/><line x1="769.20" y1="495.40" x2="769.20" y2="504.60" stroke="#0a8cff" stroke-width="1.9"/><line x1="764.60" y1="500.00" x2="773.80" y2="500.00" stroke="#0a8cff" stroke-width="1.9"/><line x1="681.5" y1="454.80" x2="769.2" y2="482.20" stroke="#0e0e80" stroke-width="2"/><path d="M674.5,440.80H688.5M681.5,440.80V466.40M674.5,466.40H688.5" fill="none" stroke="#0e0e80" stroke-width="2"/><circle cx="681.50" cy="459.40" r="4.9" fill="none" stroke="#0e0e80" stroke-width="1.9"/><line x1="683.00" y1="454.70" x2="685.40" y2="446.80" stroke="#0e0e80" stroke-width="1.9"/><polygon points="686.10,443.80 682.10,448.20 687.70,450.20" fill="#0e0e80" stroke="#0e0e80" stroke-width="1" stroke-linejoin="round"/><path d="M762.2,474.90H776.2M769.2,474.90V490.20M762.2,490.20H776.2" fill="none" stroke="#0e0e80" stroke-width="2"/><circle cx="769.20" cy="486.80" r="4.9" fill="none" stroke="#0e0e80" stroke-width="1.9"/><line x1="770.70" y1="482.10" x2="773.10" y2="474.20" stroke="#0e0e80" stroke-width="1.9"/><polygon points="773.80,471.20 769.80,475.60 775.40,477.60" fill="#0e0e80" stroke="#0e0e80" stroke-width="1" stroke-linejoin="round"/><rect x="623.3" y="352.2" width="204.5" height="204.8" fill="none" stroke="#000" stroke-width="2.3"/><line x1="614.3" y1="557.00" x2="623.3" y2="557.00" stroke="#000" stroke-width="2.3"/><text x="611.50" y="562.40" text-anchor="end" font-family='"Liberation Sans", sans-serif' font-weight="700" font-size="15.2" fill="#000">5</text><line x1="614.3" y1="505.80" x2="623.3" y2="505.80" stroke="#000" stroke-width="2.3"/><text x="611.50" y="511.20" text-anchor="end" font-family='"Liberation Sans", sans-serif' font-weight="700" font-size="15.2" fill="#000">10</text><line x1="614.3" y1="454.60" x2="623.3" y2="454.60" stroke="#000" stroke-width="2.3"/><text x="611.50" y="460.00" text-anchor="end" font-family='"Liberation Sans", sans-serif' font-weight="700" font-size="15.2" fill="#000">15</text><line x1="614.3" y1="403.40" x2="623.3" y2="403.40" stroke="#000" stroke-width="2.3"/><text x="611.50" y="408.80" text-anchor="end" font-family='"Liberation Sans", sans-serif' font-weight="700" font-size="15.2" fill="#000">20</text><line x1="614.3" y1="352.20" x2="623.3" y2="352.20" stroke="#000" stroke-width="2.3"/><text x="611.50" y="357.60" text-anchor="end" font-family='"Liberation Sans", sans-serif' font-weight="700" font-size="15.2" fill="#000">25</text><line x1="681.5" y1="557" x2="681.5" y2="566" stroke="#000" stroke-width="2.3"/><text x="680.7" y="582.40" text-anchor="middle" font-family='"Liberation Sans", sans-serif' font-weight="700" font-size="15.5" fill="#000">Vehicle</text><line x1="769.2" y1="557" x2="769.2" y2="566" stroke="#000" stroke-width="2.3"/><text x="768.4000000000001" y="582.40" text-anchor="middle" font-family='"Liberation Sans", sans-serif' font-weight="700" font-size="15.5" fill="#000">FPT</text><text transform="translate(585.5,455.40) rotate(-90)" x="0" y="0" text-anchor="middle" font-family='"Liberation Sans", sans-serif' font-weight="700" font-size="17" fill="#000">Relative Alpha Power (%)</text><text x="725.4" y="399.7" text-anchor="middle" font-family='"Liberation Sans", sans-serif' font-size="17" fill="#000">Treatment Effect</text><line x1="966.9" y1="517.50" x2="1054.6" y2="507.20" stroke="#ff8c0a" stroke-width="2"/><path d="M959.9,510.50H973.9M966.9,510.50V520.00M959.9,520.00H973.9" fill="none" stroke="#ff8c0a" stroke-width="2"/><circle cx="966.90" cy="513.00" r="4.9" fill="none" stroke="#ff8c0a" stroke-width="1.9"/><line x1="966.90" y1="517.90" x2="966.90" y2="527.10" stroke="#ff8c0a" stroke-width="1.9"/><line x1="962.30" y1="522.50" x2="971.50" y2="522.50" stroke="#ff8c0a" stroke-width="1.9"/><path d="M1047.6,500.20H1061.6M1054.6,500.20V512.00M1047.6,512.00H1061.6" fill="none" stroke="#ff8c0a" stroke-width="2"/><circle cx="1054.60" cy="502.70" r="4.9" fill="none" stroke="#ff8c0a" stroke-width="1.9"/><line x1="1054.60" y1="507.60" x2="1054.60" y2="516.80" stroke="#ff8c0a" stroke-width="1.9"/><line x1="1050.00" y1="512.20" x2="1059.20" y2="512.20" stroke="#ff8c0a" stroke-width="1.9"/><line x1="966.9" y1="522.20" x2="1054.6" y2="519.80" stroke="#ff0a0a" stroke-width="2"/><path d="M959.9,515.10H973.9M966.9,515.10V528.20M959.9,528.20H973.9" fill="none" stroke="#ff0a0a" stroke-width="2"/><circle cx="966.90" cy="526.80" r="4.9" fill="none" stroke="#ff0a0a" stroke-width="1.9"/><line x1="968.40" y1="522.10" x2="970.80" y2="514.20" stroke="#ff0a0a" stroke-width="1.9"/><polygon points="971.50,511.20 967.50,515.60 973.10,517.60" fill="#ff0a0a" stroke="#ff0a0a" stroke-width="1" stroke-linejoin="round"/><path d="M1047.6,513.70H1061.6M1054.6,513.70V525.90M1047.6,525.90H1061.6" fill="none" stroke="#ff0a0a" stroke-width="2"/><circle cx="1054.60" cy="524.40" r="4.9" fill="none" stroke="#ff0a0a" stroke-width="1.9"/><line x1="1056.10" y1="519.70" x2="1058.50" y2="511.80" stroke="#ff0a0a" stroke-width="1.9"/><polygon points="1059.20,508.80 1055.20,513.20 1060.80,515.20" fill="#ff0a0a" stroke="#ff0a0a" stroke-width="1" stroke-linejoin="round"/><line x1="966.9" y1="513.20" x2="1054.6" y2="503.00" stroke="#0a8cff" stroke-width="2"/><path d="M959.9,508.60H973.9M966.9,508.60V520.30M959.9,520.30H973.9" fill="none" stroke="#0a8cff" stroke-width="2"/><circle cx="966.90" cy="508.70" r="4.9" fill="none" stroke="#0a8cff" stroke-width="1.9"/><line x1="966.90" y1="513.60" x2="966.90" y2="522.80" stroke="#0a8cff" stroke-width="1.9"/><line x1="962.30" y1="518.20" x2="971.50" y2="518.20" stroke="#0a8cff" stroke-width="1.9"/><path d="M1047.6,493.70H1061.6M1054.6,493.70V511.40M1047.6,511.40H1061.6" fill="none" stroke="#0a8cff" stroke-width="2"/><circle cx="1054.60" cy="498.50" r="4.9" fill="none" stroke="#0a8cff" stroke-width="1.9"/><line x1="1054.60" y1="503.40" x2="1054.60" y2="512.60" stroke="#0a8cff" stroke-width="1.9"/><line x1="1050.00" y1="508.00" x2="1059.20" y2="508.00" stroke="#0a8cff" stroke-width="1.9"/><line x1="966.9" y1="522.00" x2="1054.6" y2="513.30" stroke="#0e0e80" stroke-width="2"/><circle cx="966.90" cy="526.60" r="4.9" fill="none" stroke="#0e0e80" stroke-width="1.9"/><line x1="968.40" y1="521.90" x2="970.80" y2="514.00" stroke="#0e0e80" stroke-width="1.9"/><polygon points="971.50,511.00 967.50,515.40 973.10,517.40" fill="#0e0e80" stroke="#0e0e80" stroke-width="1" stroke-linejoin="round"/><path d="M1047.6,506.70H1061.6M1054.6,506.70V518.90M1047.6,518.90H1061.6" fill="none" stroke="#0e0e80" stroke-width="2"/><circle cx="1054.60" cy="517.90" r="4.9" fill="none" stroke="#0e0e80" stroke-width="1.9"/><line x1="1056.10" y1="513.20" x2="1058.50" y2="505.30" stroke="#0e0e80" stroke-width="1.9"/><polygon points="1059.20,502.30 1055.20,506.70 1060.80,508.70" fill="#0e0e80" stroke="#0e0e80" stroke-width="1" stroke-linejoin="round"/><rect x="908.7" y="350.5" width="204.0999999999999" height="204.39999999999998" fill="none" stroke="#000" stroke-width="2.3"/><line x1="899.7" y1="554.90" x2="908.7" y2="554.90" stroke="#000" stroke-width="2.3"/><text x="896.90" y="560.30" text-anchor="end" font-family='"Liberation Sans", sans-serif' font-weight="700" font-size="15.2" fill="#000">10</text><line x1="899.7" y1="525.70" x2="908.7" y2="525.70" stroke="#000" stroke-width="2.3"/><text x="896.90" y="531.10" text-anchor="end" font-family='"Liberation Sans", sans-serif' font-weight="700" font-size="15.2" fill="#000">15</text><line x1="899.7" y1="496.50" x2="908.7" y2="496.50" stroke="#000" stroke-width="2.3"/><text x="896.90" y="501.90" text-anchor="end" font-family='"Liberation Sans", sans-serif' font-weight="700" font-size="15.2" fill="#000">20</text><line x1="899.7" y1="467.30" x2="908.7" y2="467.30" stroke="#000" stroke-width="2.3"/><text x="896.90" y="472.70" text-anchor="end" font-family='"Liberation Sans", sans-serif' font-weight="700" font-size="15.2" fill="#000">25</text><line x1="899.7" y1="438.10" x2="908.7" y2="438.10" stroke="#000" stroke-width="2.3"/><text x="896.90" y="443.50" text-anchor="end" font-family='"Liberation Sans", sans-serif' font-weight="700" font-size="15.2" fill="#000">30</text><line x1="899.7" y1="408.90" x2="908.7" y2="408.90" stroke="#000" stroke-width="2.3"/><text x="896.90" y="414.30" text-anchor="end" font-family='"Liberation Sans", sans-serif' font-weight="700" font-size="15.2" fill="#000">35</text><line x1="899.7" y1="379.70" x2="908.7" y2="379.70" stroke="#000" stroke-width="2.3"/><text x="896.90" y="385.10" text-anchor="end" font-family='"Liberation Sans", sans-serif' font-weight="700" font-size="15.2" fill="#000">40</text><line x1="899.7" y1="350.50" x2="908.7" y2="350.50" stroke="#000" stroke-width="2.3"/><text x="896.90" y="355.90" text-anchor="end" font-family='"Liberation Sans", sans-serif' font-weight="700" font-size="15.2" fill="#000">45</text><line x1="966.9" y1="554.9" x2="966.9" y2="563.9" stroke="#000" stroke-width="2.3"/><text x="966.1" y="580.30" text-anchor="middle" font-family='"Liberation Sans", sans-serif' font-weight="700" font-size="15.5" fill="#000">Vehicle</text><line x1="1054.6" y1="554.9" x2="1054.6" y2="563.9" stroke="#000" stroke-width="2.3"/><text x="1053.8" y="580.30" text-anchor="middle" font-family='"Liberation Sans", sans-serif' font-weight="700" font-size="15.5" fill="#000">FPT</text><text transform="translate(870,453.50) rotate(-90)" x="0" y="0" text-anchor="middle" font-family='"Liberation Sans", sans-serif' font-weight="700" font-size="17" fill="#000">Relative Beta Power (%)</text><text x="1010" y="444.6" text-anchor="middle" font-family='"Liberation Sans", sans-serif' font-size="17" fill="#000">Treatment Effect</text><line x1="1249.4" y1="403.00" x2="1337.1" y2="435.40" stroke="#ff8c0a" stroke-width="2"/><path d="M1242.4,387.50H1256.4M1249.4,387.50V417.40M1242.4,417.40H1256.4" fill="none" stroke="#ff8c0a" stroke-width="2"/><circle cx="1249.40" cy="398.50" r="4.9" fill="none" stroke="#ff8c0a" stroke-width="1.9"/><line x1="1249.40" y1="403.40" x2="1249.40" y2="412.60" stroke="#ff8c0a" stroke-width="1.9"/><line x1="1244.80" y1="408.00" x2="1254.00" y2="408.00" stroke="#ff8c0a" stroke-width="1.9"/><path d="M1330.1,427.50H1344.1M1337.1,427.50V446.50M1330.1,446.50H1344.1" fill="none" stroke="#ff8c0a" stroke-width="2"/><circle cx="1337.10" cy="430.90" r="4.9" fill="none" stroke="#ff8c0a" stroke-width="1.9"/><line x1="1337.10" y1="435.80" x2="1337.10" y2="445.00" stroke="#ff8c0a" stroke-width="1.9"/><line x1="1332.50" y1="440.40" x2="1341.70" y2="440.40" stroke="#ff8c0a" stroke-width="1.9"/><line x1="1249.4" y1="461.80" x2="1337.1" y2="486.50" stroke="#ff0a0a" stroke-width="2"/><path d="M1242.4,442.60H1256.4M1249.4,442.60V479.30M1242.4,479.30H1256.4" fill="none" stroke="#ff0a0a" stroke-width="2"/><circle cx="1249.40" cy="466.40" r="4.9" fill="none" stroke="#ff0a0a" stroke-width="1.9"/><line x1="1250.90" y1="461.70" x2="1253.30" y2="453.80" stroke="#ff0a0a" stroke-width="1.9"/><polygon points="1254.00,450.80 1250.00,455.20 1255.60,457.20" fill="#ff0a0a" stroke="#ff0a0a" stroke-width="1" stroke-linejoin="round"/><path d="M1330.1,467.10H1344.1M1337.1,467.10V506.40M1330.1,506.40H1344.1" fill="none" stroke="#ff0a0a" stroke-width="2"/><circle cx="1337.10" cy="491.10" r="4.9" fill="none" stroke="#ff0a0a" stroke-width="1.9"/><line x1="1338.60" y1="486.40" x2="1341.00" y2="478.50" stroke="#ff0a0a" stroke-width="1.9"/><polygon points="1341.70,475.50 1337.70,479.90 1343.30,481.90" fill="#ff0a0a" stroke="#ff0a0a" stroke-width="1" stroke-linejoin="round"/><line x1="1249.4" y1="432.50" x2="1337.1" y2="474.30" stroke="#0a8cff" stroke-width="2"/><path d="M1242.4,411.00H1256.4M1249.4,411.00V452.00M1242.4,452.00H1256.4" fill="none" stroke="#0a8cff" stroke-width="2"/><circle cx="1249.40" cy="428.00" r="4.9" fill="none" stroke="#0a8cff" stroke-width="1.9"/><line x1="1249.40" y1="432.90" x2="1249.40" y2="442.10" stroke="#0a8cff" stroke-width="1.9"/><line x1="1244.80" y1="437.50" x2="1254.00" y2="437.50" stroke="#0a8cff" stroke-width="1.9"/><path d="M1330.1,466.10H1344.1M1337.1,466.10V483.40M1330.1,483.40H1344.1" fill="none" stroke="#0a8cff" stroke-width="2"/><circle cx="1337.10" cy="469.80" r="4.9" fill="none" stroke="#0a8cff" stroke-width="1.9"/><line x1="1337.10" y1="474.70" x2="1337.10" y2="483.90" stroke="#0a8cff" stroke-width="1.9"/><line x1="1332.50" y1="479.30" x2="1341.70" y2="479.30" stroke="#0a8cff" stroke-width="1.9"/><line x1="1249.4" y1="479.30" x2="1337.1" y2="475.70" stroke="#0e0e80" stroke-width="2"/><path d="M1242.4,469.30H1256.4M1249.4,469.30V490.60M1242.4,490.60H1256.4" fill="none" stroke="#0e0e80" stroke-width="2"/><circle cx="1249.40" cy="483.90" r="4.9" fill="none" stroke="#0e0e80" stroke-width="1.9"/><line x1="1250.90" y1="479.20" x2="1253.30" y2="471.30" stroke="#0e0e80" stroke-width="1.9"/><polygon points="1254.00,468.30 1250.00,472.70 1255.60,474.70" fill="#0e0e80" stroke="#0e0e80" stroke-width="1" stroke-linejoin="round"/><circle cx="1337.10" cy="480.30" r="4.9" fill="none" stroke="#0e0e80" stroke-width="1.9"/><line x1="1338.60" y1="475.60" x2="1341.00" y2="467.70" stroke="#0e0e80" stroke-width="1.9"/><polygon points="1341.70,464.70 1337.70,469.10 1343.30,471.10" fill="#0e0e80" stroke="#0e0e80" stroke-width="1" stroke-linejoin="round"/><rect x="1191.2" y="350.6" width="205.0999999999999" height="205.0" fill="none" stroke="#000" stroke-width="2.3"/><line x1="1182.2" y1="555.60" x2="1191.2" y2="555.60" stroke="#000" stroke-width="2.3"/><text x="1179.40" y="561.00" text-anchor="end" font-family='"Liberation Sans", sans-serif' font-weight="700" font-size="15.2" fill="#000">10</text><line x1="1182.2" y1="504.35" x2="1191.2" y2="504.35" stroke="#000" stroke-width="2.3"/><text x="1179.40" y="509.75" text-anchor="end" font-family='"Liberation Sans", sans-serif' font-weight="700" font-size="15.2" fill="#000">20</text><line x1="1182.2" y1="453.10" x2="1191.2" y2="453.10" stroke="#000" stroke-width="2.3"/><text x="1179.40" y="458.50" text-anchor="end" font-family='"Liberation Sans", sans-serif' font-weight="700" font-size="15.2" fill="#000">30</text><line x1="1182.2" y1="401.85" x2="1191.2" y2="401.85" stroke="#000" stroke-width="2.3"/><text x="1179.40" y="407.25" text-anchor="end" font-family='"Liberation Sans", sans-serif' font-weight="700" font-size="15.2" fill="#000">40</text><line x1="1182.2" y1="350.60" x2="1191.2" y2="350.60" stroke="#000" stroke-width="2.3"/><text x="1179.40" y="356.00" text-anchor="end" font-family='"Liberation Sans", sans-serif' font-weight="700" font-size="15.2" fill="#000">50</text><line x1="1249.4" y1="555.6" x2="1249.4" y2="564.6" stroke="#000" stroke-width="2.3"/><text x="1248.6000000000001" y="581.00" text-anchor="middle" font-family='"Liberation Sans", sans-serif' font-weight="700" font-size="15.5" fill="#000">Vehicle</text><line x1="1337.1" y1="555.6" x2="1337.1" y2="564.6" stroke="#000" stroke-width="2.3"/><text x="1336.3" y="581.00" text-anchor="middle" font-family='"Liberation Sans", sans-serif' font-weight="700" font-size="15.5" fill="#000">FPT</text><text transform="translate(1152,453.90) rotate(-90)" x="0" y="0" text-anchor="middle" font-family='"Liberation Sans", sans-serif' font-weight="700" font-size="17" fill="#000">Relative Gamma Power (%)</text><text x="1294.4" y="527.6" text-anchor="middle" font-family='"Liberation Sans", sans-serif' font-size="17" fill="#000">Treatment and</text><text x="1294.4" y="547.6" text-anchor="middle" font-family='"Liberation Sans", sans-serif' font-size="17" fill="#000">Sex Effects</text><line x1="111.7" y1="830.90" x2="199.4" y2="800.40" stroke="#ff8c0a" stroke-width="2"/><path d="M104.7,820.40H118.7M111.7,820.40V844.20M104.7,844.20H118.7" fill="none" stroke="#ff8c0a" stroke-width="2"/><circle cx="111.70" cy="826.40" r="4.9" fill="none" stroke="#ff8c0a" stroke-width="1.9"/><line x1="111.70" y1="831.30" x2="111.70" y2="840.50" stroke="#ff8c0a" stroke-width="1.9"/><line x1="107.10" y1="835.90" x2="116.30" y2="835.90" stroke="#ff8c0a" stroke-width="1.9"/><path d="M192.4,781.10H206.4M199.4,781.10V816.00M192.4,816.00H206.4" fill="none" stroke="#ff8c0a" stroke-width="2"/><circle cx="199.40" cy="795.90" r="4.9" fill="none" stroke="#ff8c0a" stroke-width="1.9"/><line x1="199.40" y1="800.80" x2="199.40" y2="810.00" stroke="#ff8c0a" stroke-width="1.9"/><line x1="194.80" y1="805.40" x2="204.00" y2="805.40" stroke="#ff8c0a" stroke-width="1.9"/><line x1="111.7" y1="820.90" x2="199.4" y2="797.70" stroke="#ff0a0a" stroke-width="2"/><path d="M104.7,808.20H118.7M111.7,808.20V835.90M104.7,835.90H118.7" fill="none" stroke="#ff0a0a" stroke-width="2"/><circle cx="111.70" cy="825.50" r="4.9" fill="none" stroke="#ff0a0a" stroke-width="1.9"/><line x1="113.20" y1="820.80" x2="115.60" y2="812.90" stroke="#ff0a0a" stroke-width="1.9"/><polygon points="116.30,809.90 112.30,814.30 117.90,816.30" fill="#ff0a0a" stroke="#ff0a0a" stroke-width="1" stroke-linejoin="round"/><path d="M192.4,777.00H206.4M199.4,777.00V818.40M192.4,818.40H206.4" fill="none" stroke="#ff0a0a" stroke-width="2"/><circle cx="199.40" cy="802.30" r="4.9" fill="none" stroke="#ff0a0a" stroke-width="1.9"/><line x1="200.90" y1="797.60" x2="203.30" y2="789.70" stroke="#ff0a0a" stroke-width="1.9"/><polygon points="204.00,786.70 200.00,791.10 205.60,793.10" fill="#ff0a0a" stroke="#ff0a0a" stroke-width="1" stroke-linejoin="round"/><line x1="111.7" y1="847.50" x2="199.4" y2="846.40" stroke="#0a8cff" stroke-width="2"/><path d="M104.7,838.10H118.7M111.7,838.10V856.00M104.7,856.00H118.7" fill="none" stroke="#0a8cff" stroke-width="2"/><circle cx="111.70" cy="843.00" r="4.9" fill="none" stroke="#0a8cff" stroke-width="1.9"/><line x1="111.70" y1="847.90" x2="111.70" y2="857.10" stroke="#0a8cff" stroke-width="1.9"/><line x1="107.10" y1="852.50" x2="116.30" y2="852.50" stroke="#0a8cff" stroke-width="1.9"/><path d="M192.4,838.10H206.4M199.4,838.10V854.50M192.4,854.50H206.4" fill="none" stroke="#0a8cff" stroke-width="2"/><circle cx="199.40" cy="841.90" r="4.9" fill="none" stroke="#0a8cff" stroke-width="1.9"/><line x1="199.40" y1="846.80" x2="199.40" y2="856.00" stroke="#0a8cff" stroke-width="1.9"/><line x1="194.80" y1="851.40" x2="204.00" y2="851.40" stroke="#0a8cff" stroke-width="1.9"/><line x1="111.7" y1="813.70" x2="199.4" y2="804.30" stroke="#0e0e80" stroke-width="2"/><path d="M104.7,800.70H118.7M111.7,800.70V828.30M104.7,828.30H118.7" fill="none" stroke="#0e0e80" stroke-width="2"/><circle cx="111.70" cy="818.30" r="4.9" fill="none" stroke="#0e0e80" stroke-width="1.9"/><line x1="113.20" y1="813.60" x2="115.60" y2="805.70" stroke="#0e0e80" stroke-width="1.9"/><polygon points="116.30,802.70 112.30,807.10 117.90,809.10" fill="#0e0e80" stroke="#0e0e80" stroke-width="1" stroke-linejoin="round"/><path d="M192.4,792.10H206.4M199.4,792.10V815.70M192.4,815.70H206.4" fill="none" stroke="#0e0e80" stroke-width="2"/><circle cx="199.40" cy="808.90" r="4.9" fill="none" stroke="#0e0e80" stroke-width="1.9"/><line x1="200.90" y1="804.20" x2="203.30" y2="796.30" stroke="#0e0e80" stroke-width="1.9"/><polygon points="204.00,793.30 200.00,797.70 205.60,799.70" fill="#0e0e80" stroke="#0e0e80" stroke-width="1" stroke-linejoin="round"/><rect x="53.5" y="671.4" width="205.2" height="205.5" fill="none" stroke="#000" stroke-width="2.3"/><line x1="44.5" y1="876.90" x2="53.5" y2="876.90" stroke="#000" stroke-width="2.3"/><text x="41.70" y="882.30" text-anchor="end" font-family='"Liberation Sans", sans-serif' font-weight="700" font-size="15.2" fill="#000">10</text><line x1="44.5" y1="842.65" x2="53.5" y2="842.65" stroke="#000" stroke-width="2.3"/><text x="41.70" y="848.05" text-anchor="end" font-family='"Liberation Sans", sans-serif' font-weight="700" font-size="15.2" fill="#000">15</text><line x1="44.5" y1="808.40" x2="53.5" y2="808.40" stroke="#000" stroke-width="2.3"/><text x="41.70" y="813.80" text-anchor="end" font-family='"Liberation Sans", sans-serif' font-weight="700" font-size="15.2" fill="#000">20</text><line x1="44.5" y1="774.15" x2="53.5" y2="774.15" stroke="#000" stroke-width="2.3"/><text x="41.70" y="779.55" text-anchor="end" font-family='"Liberation Sans", sans-serif' font-weight="700" font-size="15.2" fill="#000">25</text><line x1="44.5" y1="739.90" x2="53.5" y2="739.90" stroke="#000" stroke-width="2.3"/><text x="41.70" y="745.30" text-anchor="end" font-family='"Liberation Sans", sans-serif' font-weight="700" font-size="15.2" fill="#000">30</text><line x1="44.5" y1="705.65" x2="53.5" y2="705.65" stroke="#000" stroke-width="2.3"/><text x="41.70" y="711.05" text-anchor="end" font-family='"Liberation Sans", sans-serif' font-weight="700" font-size="15.2" fill="#000">35</text><line x1="44.5" y1="671.40" x2="53.5" y2="671.40" stroke="#000" stroke-width="2.3"/><text x="41.70" y="676.80" text-anchor="end" font-family='"Liberation Sans", sans-serif' font-weight="700" font-size="15.2" fill="#000">40</text><line x1="111.7" y1="876.9" x2="111.7" y2="885.9" stroke="#000" stroke-width="2.3"/><text x="110.9" y="902.30" text-anchor="middle" font-family='"Liberation Sans", sans-serif' font-weight="700" font-size="15.5" fill="#000">Vehicle</text><line x1="199.4" y1="876.9" x2="199.4" y2="885.9" stroke="#000" stroke-width="2.3"/><text x="198.6" y="902.30" text-anchor="middle" font-family='"Liberation Sans", sans-serif' font-weight="700" font-size="15.5" fill="#000">FPT</text><text transform="translate(13.8,774.95) rotate(-90)" x="0" y="0" text-anchor="middle" font-family='"Liberation Sans", sans-serif' font-weight="700" font-size="17" fill="#000">Relative Delta Power (%)</text><text x="154.5" y="740.2" text-anchor="middle" font-family='"Liberation Sans", sans-serif' font-size="17" fill="#000">Treatment Effect</text><line x1="400.9" y1="812.60" x2="488.6" y2="806.00" stroke="#ff8c0a" stroke-width="2"/><path d="M393.9,800.20H407.9M400.9,800.20V825.40M393.9,825.40H407.9" fill="none" stroke="#ff8c0a" stroke-width="2"/><circle cx="400.90" cy="808.10" r="4.9" fill="none" stroke="#ff8c0a" stroke-width="1.9"/><line x1="400.90" y1="813.00" x2="400.90" y2="822.20" stroke="#ff8c0a" stroke-width="1.9"/><line x1="396.30" y1="817.60" x2="405.50" y2="817.60" stroke="#ff8c0a" stroke-width="1.9"/><path d="M481.6,790.50H495.6M488.6,790.50V821.30M481.6,821.30H495.6" fill="none" stroke="#ff8c0a" stroke-width="2"/><circle cx="488.60" cy="801.50" r="4.9" fill="none" stroke="#ff8c0a" stroke-width="1.9"/><line x1="488.60" y1="806.40" x2="488.60" y2="815.60" stroke="#ff8c0a" stroke-width="1.9"/><line x1="484.00" y1="811.00" x2="493.20" y2="811.00" stroke="#ff8c0a" stroke-width="1.9"/><line x1="400.9" y1="817.60" x2="488.6" y2="841.40" stroke="#ff0a0a" stroke-width="2"/><path d="M393.9,803.20H407.9M400.9,803.20V830.90M393.9,830.90H407.9" fill="none" stroke="#ff0a0a" stroke-width="2"/><circle cx="400.90" cy="822.20" r="4.9" fill="none" stroke="#ff0a0a" stroke-width="1.9"/><line x1="402.40" y1="817.50" x2="404.80" y2="809.60" stroke="#ff0a0a" stroke-width="1.9"/><polygon points="405.50,806.60 401.50,811.00 407.10,813.00" fill="#ff0a0a" stroke="#ff0a0a" stroke-width="1" stroke-linejoin="round"/><path d="M481.6,829.80H495.6M488.6,829.80V853.60M481.6,853.60H495.6" fill="none" stroke="#ff0a0a" stroke-width="2"/><circle cx="488.60" cy="846.00" r="4.9" fill="none" stroke="#ff0a0a" stroke-width="1.9"/><line x1="490.10" y1="841.30" x2="492.50" y2="833.40" stroke="#ff0a0a" stroke-width="1.9"/><polygon points="493.20,830.40 489.20,834.80 494.80,836.80" fill="#ff0a0a" stroke="#ff0a0a" stroke-width="1" stroke-linejoin="round"/><line x1="400.9" y1="807.10" x2="488.6" y2="808.00" stroke="#0a8cff" stroke-width="2"/><path d="M393.9,785.20H407.9M400.9,785.20V829.00M393.9,829.00H407.9" fill="none" stroke="#0a8cff" stroke-width="2"/><circle cx="400.90" cy="802.60" r="4.9" fill="none" stroke="#0a8cff" stroke-width="1.9"/><line x1="400.90" y1="807.50" x2="400.90" y2="816.70" stroke="#0a8cff" stroke-width="1.9"/><line x1="396.30" y1="812.10" x2="405.50" y2="812.10" stroke="#0a8cff" stroke-width="1.9"/><path d="M481.6,788.30H495.6M488.6,788.30V828.70M481.6,828.70H495.6" fill="none" stroke="#0a8cff" stroke-width="2"/><circle cx="488.60" cy="803.50" r="4.9" fill="none" stroke="#0a8cff" stroke-width="1.9"/><line x1="488.60" y1="808.40" x2="488.60" y2="817.60" stroke="#0a8cff" stroke-width="1.9"/><line x1="484.00" y1="813.00" x2="493.20" y2="813.00" stroke="#0a8cff" stroke-width="1.9"/><line x1="400.9" y1="786.60" x2="488.6" y2="794.00" stroke="#0e0e80" stroke-width="2"/><path d="M393.9,775.50H407.9M400.9,775.50V797.30M393.9,797.30H407.9" fill="none" stroke="#0e0e80" stroke-width="2"/><circle cx="400.90" cy="791.20" r="4.9" fill="none" stroke="#0e0e80" stroke-width="1.9"/><line x1="402.40" y1="786.50" x2="404.80" y2="778.60" stroke="#0e0e80" stroke-width="1.9"/><polygon points="405.50,775.60 401.50,780.00 407.10,782.00" fill="#0e0e80" stroke="#0e0e80" stroke-width="1" stroke-linejoin="round"/><path d="M481.6,780.70H495.6M488.6,780.70V806.90M481.6,806.90H495.6" fill="none" stroke="#0e0e80" stroke-width="2"/><circle cx="488.60" cy="798.60" r="4.9" fill="none" stroke="#0e0e80" stroke-width="1.9"/><line x1="490.10" y1="793.90" x2="492.50" y2="786.00" stroke="#0e0e80" stroke-width="1.9"/><polygon points="493.20,783.00 489.20,787.40 494.80,789.40" fill="#0e0e80" stroke="#0e0e80" stroke-width="1" stroke-linejoin="round"/><rect x="342.7" y="671.1" width="204.59999999999997" height="205.0" fill="none" stroke="#000" stroke-width="2.3"/><line x1="333.7" y1="876.10" x2="342.7" y2="876.10" stroke="#000" stroke-width="2.3"/><text x="330.90" y="881.50" text-anchor="end" font-family='"Liberation Sans", sans-serif' font-weight="700" font-size="15.2" fill="#000">10</text><line x1="333.7" y1="835.10" x2="342.7" y2="835.10" stroke="#000" stroke-width="2.3"/><text x="330.90" y="840.50" text-anchor="end" font-family='"Liberation Sans", sans-serif' font-weight="700" font-size="15.2" fill="#000">15</text><line x1="333.7" y1="794.10" x2="342.7" y2="794.10" stroke="#000" stroke-width="2.3"/><text x="330.90" y="799.50" text-anchor="end" font-family='"Liberation Sans", sans-serif' font-weight="700" font-size="15.2" fill="#000">20</text><line x1="333.7" y1="753.10" x2="342.7" y2="753.10" stroke="#000" stroke-width="2.3"/><text x="330.90" y="758.50" text-anchor="end" font-family='"Liberation Sans", sans-serif' font-weight="700" font-size="15.2" fill="#000">25</text><line x1="333.7" y1="712.10" x2="342.7" y2="712.10" stroke="#000" stroke-width="2.3"/><text x="330.90" y="717.50" text-anchor="end" font-family='"Liberation Sans", sans-serif' font-weight="700" font-size="15.2" fill="#000">30</text><line x1="333.7" y1="671.10" x2="342.7" y2="671.10" stroke="#000" stroke-width="2.3"/><text x="330.90" y="676.50" text-anchor="end" font-family='"Liberation Sans", sans-serif' font-weight="700" font-size="15.2" fill="#000">35</text><line x1="400.9" y1="876.1" x2="400.9" y2="885.1" stroke="#000" stroke-width="2.3"/><text x="400.09999999999997" y="901.50" text-anchor="middle" font-family='"Liberation Sans", sans-serif' font-weight="700" font-size="15.5" fill="#000">Vehicle</text><line x1="488.6" y1="876.1" x2="488.6" y2="885.1" stroke="#000" stroke-width="2.3"/><text x="487.8" y="901.50" text-anchor="middle" font-family='"Liberation Sans", sans-serif' font-weight="700" font-size="15.5" fill="#000">FPT</text><text transform="translate(304,774.40) rotate(-90)" x="0" y="0" text-anchor="middle" font-family='"Liberation Sans", sans-serif' font-weight="700" font-size="17" fill="#000">Relative Theta Power (%)</text><line x1="681.4" y1="812.60" x2="769.1" y2="829.80" stroke="#ff8c0a" stroke-width="2"/><path d="M674.4,807.70H688.4M681.4,807.70V820.40M674.4,820.40H688.4" fill="none" stroke="#ff8c0a" stroke-width="2"/><circle cx="681.40" cy="808.10" r="4.9" fill="none" stroke="#ff8c0a" stroke-width="1.9"/><line x1="681.40" y1="813.00" x2="681.40" y2="822.20" stroke="#ff8c0a" stroke-width="1.9"/><line x1="676.80" y1="817.60" x2="686.00" y2="817.60" stroke="#ff8c0a" stroke-width="1.9"/><path d="M762.1,822.00H776.1M769.1,822.00V838.70M762.1,838.70H776.1" fill="none" stroke="#ff8c0a" stroke-width="2"/><circle cx="769.10" cy="825.30" r="4.9" fill="none" stroke="#ff8c0a" stroke-width="1.9"/><line x1="769.10" y1="830.20" x2="769.10" y2="839.40" stroke="#ff8c0a" stroke-width="1.9"/><line x1="764.50" y1="834.80" x2="773.70" y2="834.80" stroke="#ff8c0a" stroke-width="1.9"/><line x1="681.4" y1="812.10" x2="769.1" y2="852.50" stroke="#ff0a0a" stroke-width="2"/><path d="M674.4,798.20H688.4M681.4,798.20V824.30M674.4,824.30H688.4" fill="none" stroke="#ff0a0a" stroke-width="2"/><circle cx="681.40" cy="816.70" r="4.9" fill="none" stroke="#ff0a0a" stroke-width="1.9"/><line x1="682.90" y1="812.00" x2="685.30" y2="804.10" stroke="#ff0a0a" stroke-width="1.9"/><polygon points="686.00,801.10 682.00,805.50 687.60,807.50" fill="#ff0a0a" stroke="#ff0a0a" stroke-width="1" stroke-linejoin="round"/><path d="M762.1,849.70H776.1M769.1,849.70V858.60M762.1,858.60H776.1" fill="none" stroke="#ff0a0a" stroke-width="2"/><circle cx="769.10" cy="857.10" r="4.9" fill="none" stroke="#ff0a0a" stroke-width="1.9"/><line x1="770.60" y1="852.40" x2="773.00" y2="844.50" stroke="#ff0a0a" stroke-width="1.9"/><polygon points="773.70,841.50 769.70,845.90 775.30,847.90" fill="#ff0a0a" stroke="#ff0a0a" stroke-width="1" stroke-linejoin="round"/><line x1="681.4" y1="798.20" x2="769.1" y2="826.50" stroke="#0a8cff" stroke-width="2"/><path d="M674.4,778.00H688.4M681.4,778.00V815.40M674.4,815.40H688.4" fill="none" stroke="#0a8cff" stroke-width="2"/><circle cx="681.40" cy="793.70" r="4.9" fill="none" stroke="#0a8cff" stroke-width="1.9"/><line x1="681.40" y1="798.60" x2="681.40" y2="807.80" stroke="#0a8cff" stroke-width="1.9"/><line x1="676.80" y1="803.20" x2="686.00" y2="803.20" stroke="#0a8cff" stroke-width="1.9"/><path d="M762.1,815.40H776.1M769.1,815.40V837.60M762.1,837.60H776.1" fill="none" stroke="#0a8cff" stroke-width="2"/><circle cx="769.10" cy="822.00" r="4.9" fill="none" stroke="#0a8cff" stroke-width="1.9"/><line x1="769.10" y1="826.90" x2="769.10" y2="836.10" stroke="#0a8cff" stroke-width="1.9"/><line x1="764.50" y1="831.50" x2="773.70" y2="831.50" stroke="#0a8cff" stroke-width="1.9"/><line x1="681.4" y1="797.70" x2="769.1" y2="827.00" stroke="#0e0e80" stroke-width="2"/><path d="M674.4,789.90H688.4M681.4,789.90V804.30M674.4,804.30H688.4" fill="none" stroke="#0e0e80" stroke-width="2"/><circle cx="681.40" cy="802.30" r="4.9" fill="none" stroke="#0e0e80" stroke-width="1.9"/><line x1="682.90" y1="797.60" x2="685.30" y2="789.70" stroke="#0e0e80" stroke-width="1.9"/><polygon points="686.00,786.70 682.00,791.10 687.60,793.10" fill="#0e0e80" stroke="#0e0e80" stroke-width="1" stroke-linejoin="round"/><path d="M762.1,821.00H776.1M769.1,821.00V833.00M762.1,833.00H776.1" fill="none" stroke="#0e0e80" stroke-width="2"/><circle cx="769.10" cy="831.60" r="4.9" fill="none" stroke="#0e0e80" stroke-width="1.9"/><line x1="770.60" y1="826.90" x2="773.00" y2="819.00" stroke="#0e0e80" stroke-width="1.9"/><polygon points="773.70,816.00 769.70,820.40 775.30,822.40" fill="#0e0e80" stroke="#0e0e80" stroke-width="1" stroke-linejoin="round"/><rect x="623.2" y="671.1" width="204.0999999999999" height="204.89999999999998" fill="none" stroke="#000" stroke-width="2.3"/><line x1="614.2" y1="876.00" x2="623.2" y2="876.00" stroke="#000" stroke-width="2.3"/><text x="611.40" y="881.40" text-anchor="end" font-family='"Liberation Sans", sans-serif' font-weight="700" font-size="15.2" fill="#000">5</text><line x1="614.2" y1="824.77" x2="623.2" y2="824.77" stroke="#000" stroke-width="2.3"/><text x="611.40" y="830.17" text-anchor="end" font-family='"Liberation Sans", sans-serif' font-weight="700" font-size="15.2" fill="#000">10</text><line x1="614.2" y1="773.55" x2="623.2" y2="773.55" stroke="#000" stroke-width="2.3"/><text x="611.40" y="778.95" text-anchor="end" font-family='"Liberation Sans", sans-serif' font-weight="700" font-size="15.2" fill="#000">15</text><line x1="614.2" y1="722.33" x2="623.2" y2="722.33" stroke="#000" stroke-width="2.3"/><text x="611.40" y="727.73" text-anchor="end" font-family='"Liberation Sans", sans-serif' font-weight="700" font-size="15.2" fill="#000">20</text><line x1="614.2" y1="671.10" x2="623.2" y2="671.10" stroke="#000" stroke-width="2.3"/><text x="611.40" y="676.50" text-anchor="end" font-family='"Liberation Sans", sans-serif' font-weight="700" font-size="15.2" fill="#000">25</text><line x1="681.4" y1="876" x2="681.4" y2="885" stroke="#000" stroke-width="2.3"/><text x="680.6" y="901.40" text-anchor="middle" font-family='"Liberation Sans", sans-serif' font-weight="700" font-size="15.5" fill="#000">Vehicle</text><line x1="769.1" y1="876" x2="769.1" y2="885" stroke="#000" stroke-width="2.3"/><text x="768.3000000000001" y="901.40" text-anchor="middle" font-family='"Liberation Sans", sans-serif' font-weight="700" font-size="15.5" fill="#000">FPT</text><text transform="translate(585.5,774.35) rotate(-90)" x="0" y="0" text-anchor="middle" font-family='"Liberation Sans", sans-serif' font-weight="700" font-size="17" fill="#000">Relative Alpha Power (%)</text><text x="726" y="735.9" text-anchor="middle" font-family='"Liberation Sans", sans-serif' font-size="17" fill="#000">Treatment Effect</text><line x1="966.2" y1="840.60" x2="1053.9" y2="833.80" stroke="#ff8c0a" stroke-width="2"/><path d="M959.2,834.60H973.2M966.2,834.60V847.30M959.2,847.30H973.2" fill="none" stroke="#ff8c0a" stroke-width="2"/><circle cx="966.20" cy="836.10" r="4.9" fill="none" stroke="#ff8c0a" stroke-width="1.9"/><line x1="966.20" y1="841.00" x2="966.20" y2="850.20" stroke="#ff8c0a" stroke-width="1.9"/><line x1="961.60" y1="845.60" x2="970.80" y2="845.60" stroke="#ff8c0a" stroke-width="1.9"/><path d="M1046.9,823.40H1060.9M1053.9,823.40V844.30M1046.9,844.30H1060.9" fill="none" stroke="#ff8c0a" stroke-width="2"/><circle cx="1053.90" cy="829.30" r="4.9" fill="none" stroke="#ff8c0a" stroke-width="1.9"/><line x1="1053.90" y1="834.20" x2="1053.90" y2="843.40" stroke="#ff8c0a" stroke-width="1.9"/><line x1="1049.30" y1="838.80" x2="1058.50" y2="838.80" stroke="#ff8c0a" stroke-width="1.9"/><line x1="966.2" y1="831.60" x2="1053.9" y2="834.60" stroke="#ff0a0a" stroke-width="2"/><path d="M959.2,821.90H973.2M966.2,821.90V840.90M959.2,840.90H973.2" fill="none" stroke="#ff0a0a" stroke-width="2"/><circle cx="966.20" cy="836.20" r="4.9" fill="none" stroke="#ff0a0a" stroke-width="1.9"/><line x1="967.70" y1="831.50" x2="970.10" y2="823.60" stroke="#ff0a0a" stroke-width="1.9"/><polygon points="970.80,820.60 966.80,825.00 972.40,827.00" fill="#ff0a0a" stroke="#ff0a0a" stroke-width="1" stroke-linejoin="round"/><path d="M1046.9,830.00H1060.9M1053.9,830.00V839.00M1046.9,839.00H1060.9" fill="none" stroke="#ff0a0a" stroke-width="2"/><circle cx="1053.90" cy="839.20" r="4.9" fill="none" stroke="#ff0a0a" stroke-width="1.9"/><line x1="1055.40" y1="834.50" x2="1057.80" y2="826.60" stroke="#ff0a0a" stroke-width="1.9"/><polygon points="1058.50,823.60 1054.50,828.00 1060.10,830.00" fill="#ff0a0a" stroke="#ff0a0a" stroke-width="1" stroke-linejoin="round"/><line x1="966.2" y1="819.60" x2="1053.9" y2="747.10" stroke="#0a8cff" stroke-width="2"/><path d="M959.2,812.90H973.2M966.2,812.90V822.60M959.2,822.60H973.2" fill="none" stroke="#0a8cff" stroke-width="2"/><circle cx="966.20" cy="815.10" r="4.9" fill="none" stroke="#0a8cff" stroke-width="1.9"/><line x1="966.20" y1="820.00" x2="966.20" y2="829.20" stroke="#0a8cff" stroke-width="1.9"/><line x1="961.60" y1="824.60" x2="970.80" y2="824.60" stroke="#0a8cff" stroke-width="1.9"/><path d="M1046.9,726.20H1060.9M1053.9,726.20V765.10M1046.9,765.10H1060.9" fill="none" stroke="#0a8cff" stroke-width="2"/><circle cx="1053.90" cy="742.60" r="4.9" fill="none" stroke="#0a8cff" stroke-width="1.9"/><line x1="1053.90" y1="747.50" x2="1053.90" y2="756.70" stroke="#0a8cff" stroke-width="1.9"/><line x1="1049.30" y1="752.10" x2="1058.50" y2="752.10" stroke="#0a8cff" stroke-width="1.9"/><line x1="966.2" y1="825.60" x2="1053.9" y2="835.30" stroke="#0e0e80" stroke-width="2"/><circle cx="966.20" cy="830.20" r="4.9" fill="none" stroke="#0e0e80" stroke-width="1.9"/><line x1="967.70" y1="825.50" x2="970.10" y2="817.60" stroke="#0e0e80" stroke-width="1.9"/><polygon points="970.80,814.60 966.80,819.00 972.40,821.00" fill="#0e0e80" stroke="#0e0e80" stroke-width="1" stroke-linejoin="round"/><path d="M1046.9,828.60H1060.9M1053.9,828.60V842.00M1046.9,842.00H1060.9" fill="none" stroke="#0e0e80" stroke-width="2"/><circle cx="1053.90" cy="839.90" r="4.9" fill="none" stroke="#0e0e80" stroke-width="1.9"/><line x1="1055.40" y1="835.20" x2="1057.80" y2="827.30" stroke="#0e0e80" stroke-width="1.9"/><polygon points="1058.50,824.30 1054.50,828.70 1060.10,830.70" fill="#0e0e80" stroke="#0e0e80" stroke-width="1" stroke-linejoin="round"/><rect x="908" y="671.4" width="205" height="205.60000000000002" fill="none" stroke="#000" stroke-width="2.3"/><line x1="899" y1="877.00" x2="908" y2="877.00" stroke="#000" stroke-width="2.3"/><text x="896.20" y="882.40" text-anchor="end" font-family='"Liberation Sans", sans-serif' font-weight="700" font-size="15.2" fill="#000">10</text><line x1="899" y1="847.63" x2="908" y2="847.63" stroke="#000" stroke-width="2.3"/><text x="896.20" y="853.03" text-anchor="end" font-family='"Liberation Sans", sans-serif' font-weight="700" font-size="15.2" fill="#000">15</text><line x1="899" y1="818.26" x2="908" y2="818.26" stroke="#000" stroke-width="2.3"/><text x="896.20" y="823.66" text-anchor="end" font-family='"Liberation Sans", sans-serif' font-weight="700" font-size="15.2" fill="#000">20</text><line x1="899" y1="788.89" x2="908" y2="788.89" stroke="#000" stroke-width="2.3"/><text x="896.20" y="794.29" text-anchor="end" font-family='"Liberation Sans", sans-serif' font-weight="700" font-size="15.2" fill="#000">25</text><line x1="899" y1="759.51" x2="908" y2="759.51" stroke="#000" stroke-width="2.3"/><text x="896.20" y="764.91" text-anchor="end" font-family='"Liberation Sans", sans-serif' font-weight="700" font-size="15.2" fill="#000">30</text><line x1="899" y1="730.14" x2="908" y2="730.14" stroke="#000" stroke-width="2.3"/><text x="896.20" y="735.54" text-anchor="end" font-family='"Liberation Sans", sans-serif' font-weight="700" font-size="15.2" fill="#000">35</text><line x1="899" y1="700.77" x2="908" y2="700.77" stroke="#000" stroke-width="2.3"/><text x="896.20" y="706.17" text-anchor="end" font-family='"Liberation Sans", sans-serif' font-weight="700" font-size="15.2" fill="#000">40</text><line x1="899" y1="671.40" x2="908" y2="671.40" stroke="#000" stroke-width="2.3"/><text x="896.20" y="676.80" text-anchor="end" font-family='"Liberation Sans", sans-serif' font-weight="700" font-size="15.2" fill="#000">45</text><line x1="966.2" y1="877" x2="966.2" y2="886" stroke="#000" stroke-width="2.3"/><text x="965.4000000000001" y="902.40" text-anchor="middle" font-family='"Liberation Sans", sans-serif' font-weight="700" font-size="15.5" fill="#000">Vehicle</text><line x1="1053.9" y1="877" x2="1053.9" y2="886" stroke="#000" stroke-width="2.3"/><text x="1053.1000000000001" y="902.40" text-anchor="middle" font-family='"Liberation Sans", sans-serif' font-weight="700" font-size="15.5" fill="#000">FPT</text><text transform="translate(870,775.00) rotate(-90)" x="0" y="0" text-anchor="middle" font-family='"Liberation Sans", sans-serif' font-weight="700" font-size="17" fill="#000">Relative Beta Power (%)</text><text x="1009.4" y="697.7" text-anchor="middle" font-family='"Liberation Sans", sans-serif' font-size="17" fill="#000">All Effects due to</text><text x="1009.4" y="717" text-anchor="middle" font-family='"Liberation Sans", sans-serif' font-size="17" fill="#000">FPT-treated WT Females</text><line x1="1249.4" y1="729.20" x2="1337.1" y2="757.20" stroke="#ff8c0a" stroke-width="2"/><path d="M1242.4,714.40H1256.4M1249.4,714.40V744.00M1242.4,744.00H1256.4" fill="none" stroke="#ff8c0a" stroke-width="2"/><circle cx="1249.40" cy="724.70" r="4.9" fill="none" stroke="#ff8c0a" stroke-width="1.9"/><line x1="1249.40" y1="729.60" x2="1249.40" y2="738.80" stroke="#ff8c0a" stroke-width="1.9"/><line x1="1244.80" y1="734.20" x2="1254.00" y2="734.20" stroke="#ff8c0a" stroke-width="1.9"/><path d="M1330.1,747.50H1344.1M1337.1,747.50V771.30M1330.1,771.30H1344.1" fill="none" stroke="#ff8c0a" stroke-width="2"/><circle cx="1337.10" cy="752.70" r="4.9" fill="none" stroke="#ff8c0a" stroke-width="1.9"/><line x1="1337.10" y1="757.60" x2="1337.10" y2="766.80" stroke="#ff8c0a" stroke-width="1.9"/><line x1="1332.50" y1="762.20" x2="1341.70" y2="762.20" stroke="#ff8c0a" stroke-width="1.9"/><line x1="1249.4" y1="743.20" x2="1337.1" y2="722.50" stroke="#ff0a0a" stroke-width="2"/><path d="M1242.4,726.20H1256.4M1249.4,726.20V763.10M1242.4,763.10H1256.4" fill="none" stroke="#ff0a0a" stroke-width="2"/><circle cx="1249.40" cy="747.80" r="4.9" fill="none" stroke="#ff0a0a" stroke-width="1.9"/><line x1="1250.90" y1="743.10" x2="1253.30" y2="735.20" stroke="#ff0a0a" stroke-width="1.9"/><polygon points="1254.00,732.20 1250.00,736.60 1255.60,738.60" fill="#ff0a0a" stroke="#ff0a0a" stroke-width="1" stroke-linejoin="round"/><path d="M1330.1,704.00H1344.1M1337.1,704.00V742.90M1330.1,742.90H1344.1" fill="none" stroke="#ff0a0a" stroke-width="2"/><circle cx="1337.10" cy="727.10" r="4.9" fill="none" stroke="#ff0a0a" stroke-width="1.9"/><line x1="1338.60" y1="722.40" x2="1341.00" y2="714.50" stroke="#ff0a0a" stroke-width="1.9"/><polygon points="1341.70,711.50 1337.70,715.90 1343.30,717.90" fill="#ff0a0a" stroke="#ff0a0a" stroke-width="1" stroke-linejoin="round"/><line x1="1249.4" y1="746.90" x2="1337.1" y2="796.20" stroke="#0a8cff" stroke-width="2"/><path d="M1242.4,727.80H1256.4M1249.4,727.80V766.00M1242.4,766.00H1256.4" fill="none" stroke="#0a8cff" stroke-width="2"/><circle cx="1249.40" cy="742.40" r="4.9" fill="none" stroke="#0a8cff" stroke-width="1.9"/><line x1="1249.40" y1="747.30" x2="1249.40" y2="756.50" stroke="#0a8cff" stroke-width="1.9"/><line x1="1244.80" y1="751.90" x2="1254.00" y2="751.90" stroke="#0a8cff" stroke-width="1.9"/><path d="M1330.1,780.70H1344.1M1337.1,780.70V817.30M1330.1,817.30H1344.1" fill="none" stroke="#0a8cff" stroke-width="2"/><circle cx="1337.10" cy="791.70" r="4.9" fill="none" stroke="#0a8cff" stroke-width="1.9"/><line x1="1337.10" y1="796.60" x2="1337.10" y2="805.80" stroke="#0a8cff" stroke-width="1.9"/><line x1="1332.50" y1="801.20" x2="1341.70" y2="801.20" stroke="#0a8cff" stroke-width="1.9"/><line x1="1249.4" y1="781.60" x2="1337.1" y2="759.70" stroke="#0e0e80" stroke-width="2"/><path d="M1242.4,766.40H1256.4M1249.4,766.40V798.70M1242.4,798.70H1256.4" fill="none" stroke="#0e0e80" stroke-width="2"/><circle cx="1249.40" cy="786.20" r="4.9" fill="none" stroke="#0e0e80" stroke-width="1.9"/><line x1="1250.90" y1="781.50" x2="1253.30" y2="773.60" stroke="#0e0e80" stroke-width="1.9"/><polygon points="1254.00,770.60 1250.00,775.00 1255.60,777.00" fill="#0e0e80" stroke="#0e0e80" stroke-width="1" stroke-linejoin="round"/><path d="M1330.1,748.10H1344.1M1337.1,748.10V772.80M1330.1,772.80H1344.1" fill="none" stroke="#0e0e80" stroke-width="2"/><circle cx="1337.10" cy="764.30" r="4.9" fill="none" stroke="#0e0e80" stroke-width="1.9"/><line x1="1338.60" y1="759.60" x2="1341.00" y2="751.70" stroke="#0e0e80" stroke-width="1.9"/><polygon points="1341.70,748.70 1337.70,753.10 1343.30,755.10" fill="#0e0e80" stroke="#0e0e80" stroke-width="1" stroke-linejoin="round"/><rect x="1191.2" y="671.5" width="204.79999999999995" height="204.79999999999995" fill="none" stroke="#000" stroke-width="2.3"/><line x1="1182.2" y1="876.30" x2="1191.2" y2="876.30" stroke="#000" stroke-width="2.3"/><text x="1179.40" y="881.70" text-anchor="end" font-family='"Liberation Sans", sans-serif' font-weight="700" font-size="15.2" fill="#000">10</text><line x1="1182.2" y1="825.10" x2="1191.2" y2="825.10" stroke="#000" stroke-width="2.3"/><text x="1179.40" y="830.50" text-anchor="end" font-family='"Liberation Sans", sans-serif' font-weight="700" font-size="15.2" fill="#000">20</text><line x1="1182.2" y1="773.90" x2="1191.2" y2="773.90" stroke="#000" stroke-width="2.3"/><text x="1179.40" y="779.30" text-anchor="end" font-family='"Liberation Sans", sans-serif' font-weight="700" font-size="15.2" fill="#000">30</text><line x1="1182.2" y1="722.70" x2="1191.2" y2="722.70" stroke="#000" stroke-width="2.3"/><text x="1179.40" y="728.10" text-anchor="end" font-family='"Liberation Sans", sans-serif' font-weight="700" font-size="15.2" fill="#000">40</text><line x1="1182.2" y1="671.50" x2="1191.2" y2="671.50" stroke="#000" stroke-width="2.3"/><text x="1179.40" y="676.90" text-anchor="end" font-family='"Liberation Sans", sans-serif' font-weight="700" font-size="15.2" fill="#000">50</text><line x1="1249.4" y1="876.3" x2="1249.4" y2="885.3" stroke="#000" stroke-width="2.3"/><text x="1248.6000000000001" y="901.70" text-anchor="middle" font-family='"Liberation Sans", sans-serif' font-weight="700" font-size="15.5" fill="#000">Vehicle</text><line x1="1337.1" y1="876.3" x2="1337.1" y2="885.3" stroke="#000" stroke-width="2.3"/><text x="1336.3" y="901.70" text-anchor="middle" font-family='"Liberation Sans", sans-serif' font-weight="700" font-size="15.5" fill="#000">FPT</text><text transform="translate(1152,774.70) rotate(-90)" x="0" y="0" text-anchor="middle" font-family='"Liberation Sans", sans-serif' font-weight="700" font-size="17" fill="#000">Relative Gamma Power (%)</text><text x="1293.6" y="841" text-anchor="middle" font-family='"Liberation Sans", sans-serif' font-size="15" fill="#000">Genotype Effect</text><text x="1293.6" y="859.2" text-anchor="middle" font-family='"Liberation Sans", sans-serif' font-size="15" fill="#000">Treatment x Sex Interaction</text><text x="1439.4" y="60.90" font-family='"Liberation Sans", sans-serif' font-size="16.4" fill="#000">WT</text><text x="1439.4" y="80.50" font-family='"Liberation Sans", sans-serif' font-size="16.4" fill="#000">Male</text><circle cx="1416.40" cy="69.60" r="4.9" fill="none" stroke="#0e0e80" stroke-width="1.9"/><line x1="1417.90" y1="64.90" x2="1420.30" y2="57.00" stroke="#0e0e80" stroke-width="1.9"/><polygon points="1421.00,54.00 1417.00,58.40 1422.60,60.40" fill="#0e0e80" stroke="#0e0e80" stroke-width="1" stroke-linejoin="round"/><text x="1439.4" y="108.47" font-family='"Liberation Sans", sans-serif' font-size="16.4" fill="#000">WT</text><text x="1439.4" y="128.07" font-family='"Liberation Sans", sans-serif' font-size="16.4" fill="#000">Female</text><circle cx="1416.40" cy="108.07" r="4.9" fill="none" stroke="#0a8cff" stroke-width="1.9"/><line x1="1416.40" y1="112.97" x2="1416.40" y2="122.17" stroke="#0a8cff" stroke-width="1.9"/><line x1="1411.80" y1="117.57" x2="1421.00" y2="117.57" stroke="#0a8cff" stroke-width="1.9"/><text x="1439.4" y="156.04" font-family='"Liberation Sans", sans-serif' font-size="16.4" fill="#000">KO</text><text x="1439.4" y="175.64" font-family='"Liberation Sans", sans-serif' font-size="16.4" fill="#000">Male</text><circle cx="1416.40" cy="164.74" r="4.9" fill="none" stroke="#ff0a0a" stroke-width="1.9"/><line x1="1417.90" y1="160.04" x2="1420.30" y2="152.14" stroke="#ff0a0a" stroke-width="1.9"/><polygon points="1421.00,149.14 1417.00,153.54 1422.60,155.54" fill="#ff0a0a" stroke="#ff0a0a" stroke-width="1" stroke-linejoin="round"/><text x="1439.4" y="203.61" font-family='"Liberation Sans", sans-serif' font-size="16.4" fill="#000">KO</text><text x="1439.4" y="223.21" font-family='"Liberation Sans", sans-serif' font-size="16.4" fill="#000">Female</text><circle cx="1416.40" cy="203.21" r="4.9" fill="none" stroke="#ff8c0a" stroke-width="1.9"/><line x1="1416.40" y1="208.11" x2="1416.40" y2="217.31" stroke="#ff8c0a" stroke-width="1.9"/><line x1="1411.80" y1="212.71" x2="1421.00" y2="212.71" stroke="#ff8c0a" stroke-width="1.9"/><text x="1444.5" y="375.50" font-family='"Liberation Sans", sans-serif' font-size="16.4" fill="#000">WT</text><text x="1444.5" y="395.10" font-family='"Liberation Sans", sans-serif' font-size="16.4" fill="#000">Male</text><circle cx="1421.50" cy="384.20" r="4.9" fill="none" stroke="#0e0e80" stroke-width="1.9"/><line x1="1423.00" y1="379.50" x2="1425.40" y2="371.60" stroke="#0e0e80" stroke-width="1.9"/><polygon points="1426.10,368.60 1422.10,373.00 1427.70,375.00" fill="#0e0e80" stroke="#0e0e80" stroke-width="1" stroke-linejoin="round"/><text x="1444.5" y="423.07" font-family='"Liberation Sans", sans-serif' font-size="16.4" fill="#000">WT</text><text x="1444.5" y="442.67" font-family='"Liberation Sans", sans-serif' font-size="16.4" fill="#000">Female</text><circle cx="1421.50" cy="422.67" r="4.9" fill="none" stroke="#0a8cff" stroke-width="1.9"/><line x1="1421.50" y1="427.57" x2="1421.50" y2="436.77" stroke="#0a8cff" stroke-width="1.9"/><line x1="1416.90" y1="432.17" x2="1426.10" y2="432.17" stroke="#0a8cff" stroke-width="1.9"/><text x="1444.5" y="470.64" font-family='"Liberation Sans", sans-serif' font-size="16.4" fill="#000">KO</text><text x="1444.5" y="490.24" font-family='"Liberation Sans", sans-serif' font-size="16.4" fill="#000">Male</text><circle cx="1421.50" cy="479.34" r="4.9" fill="none" stroke="#ff0a0a" stroke-width="1.9"/><line x1="1423.00" y1="474.64" x2="1425.40" y2="466.74" stroke="#ff0a0a" stroke-width="1.9"/><polygon points="1426.10,463.74 1422.10,468.14 1427.70,470.14" fill="#ff0a0a" stroke="#ff0a0a" stroke-width="1" stroke-linejoin="round"/><text x="1444.5" y="518.21" font-family='"Liberation Sans", sans-serif' font-size="16.4" fill="#000">KO</text><text x="1444.5" y="537.81" font-family='"Liberation Sans", sans-serif' font-size="16.4" fill="#000">Female</text><circle cx="1421.50" cy="517.81" r="4.9" fill="none" stroke="#ff8c0a" stroke-width="1.9"/><line x1="1421.50" y1="522.71" x2="1421.50" y2="531.91" stroke="#ff8c0a" stroke-width="1.9"/><line x1="1416.90" y1="527.31" x2="1426.10" y2="527.31" stroke="#ff8c0a" stroke-width="1.9"/><text x="1444.5" y="695.50" font-family='"Liberation Sans", sans-serif' font-size="16.4" fill="#000">WT</text><text x="1444.5" y="715.10" font-family='"Liberation Sans", sans-serif' font-size="16.4" fill="#000">Male</text><circle cx="1421.50" cy="704.20" r="4.9" fill="none" stroke="#0e0e80" stroke-width="1.9"/><line x1="1423.00" y1="699.50" x2="1425.40" y2="691.60" stroke="#0e0e80" stroke-width="1.9"/><polygon points="1426.10,688.60 1422.10,693.00 1427.70,695.00" fill="#0e0e80" stroke="#0e0e80" stroke-width="1" stroke-linejoin="round"/><text x="1444.5" y="743.07" font-family='"Liberation Sans", sans-serif' font-size="16.4" fill="#000">WT</text><text x="1444.5" y="762.67" font-family='"Liberation Sans", sans-serif' font-size="16.4" fill="#000">Female</text><circle cx="1421.50" cy="742.67" r="4.9" fill="none" stroke="#0a8cff" stroke-width="1.9"/><line x1="1421.50" y1="747.57" x2="1421.50" y2="756.77" stroke="#0a8cff" stroke-width="1.9"/><line x1="1416.90" y1="752.17" x2="1426.10" y2="752.17" stroke="#0a8cff" stroke-width="1.9"/><text x="1444.5" y="790.64" font-family='"Liberation Sans", sans-serif' font-size="16.4" fill="#000">KO</text><text x="1444.5" y="810.24" font-family='"Liberation Sans", sans-serif' font-size="16.4" fill="#000">Male</text><circle cx="1421.50" cy="799.34" r="4.9" fill="none" stroke="#ff0a0a" stroke-width="1.9"/><line x1="1423.00" y1="794.64" x2="1425.40" y2="786.74" stroke="#ff0a0a" stroke-width="1.9"/><polygon points="1426.10,783.74 1422.10,788.14 1427.70,790.14" fill="#ff0a0a" stroke="#ff0a0a" stroke-width="1" stroke-linejoin="round"/><text x="1444.5" y="838.21" font-family='"Liberation Sans", sans-serif' font-size="16.4" fill="#000">KO</text><text x="1444.5" y="857.81" font-family='"Liberation Sans", sans-serif' font-size="16.4" fill="#000">Female</text><circle cx="1421.50" cy="837.81" r="4.9" fill="none" stroke="#ff8c0a" stroke-width="1.9"/><line x1="1421.50" y1="842.71" x2="1421.50" y2="851.91" stroke="#ff8c0a" stroke-width="1.9"/><line x1="1416.90" y1="847.31" x2="1426.10" y2="847.31" stroke="#ff8c0a" stroke-width="1.9"/></svg></body></html>
